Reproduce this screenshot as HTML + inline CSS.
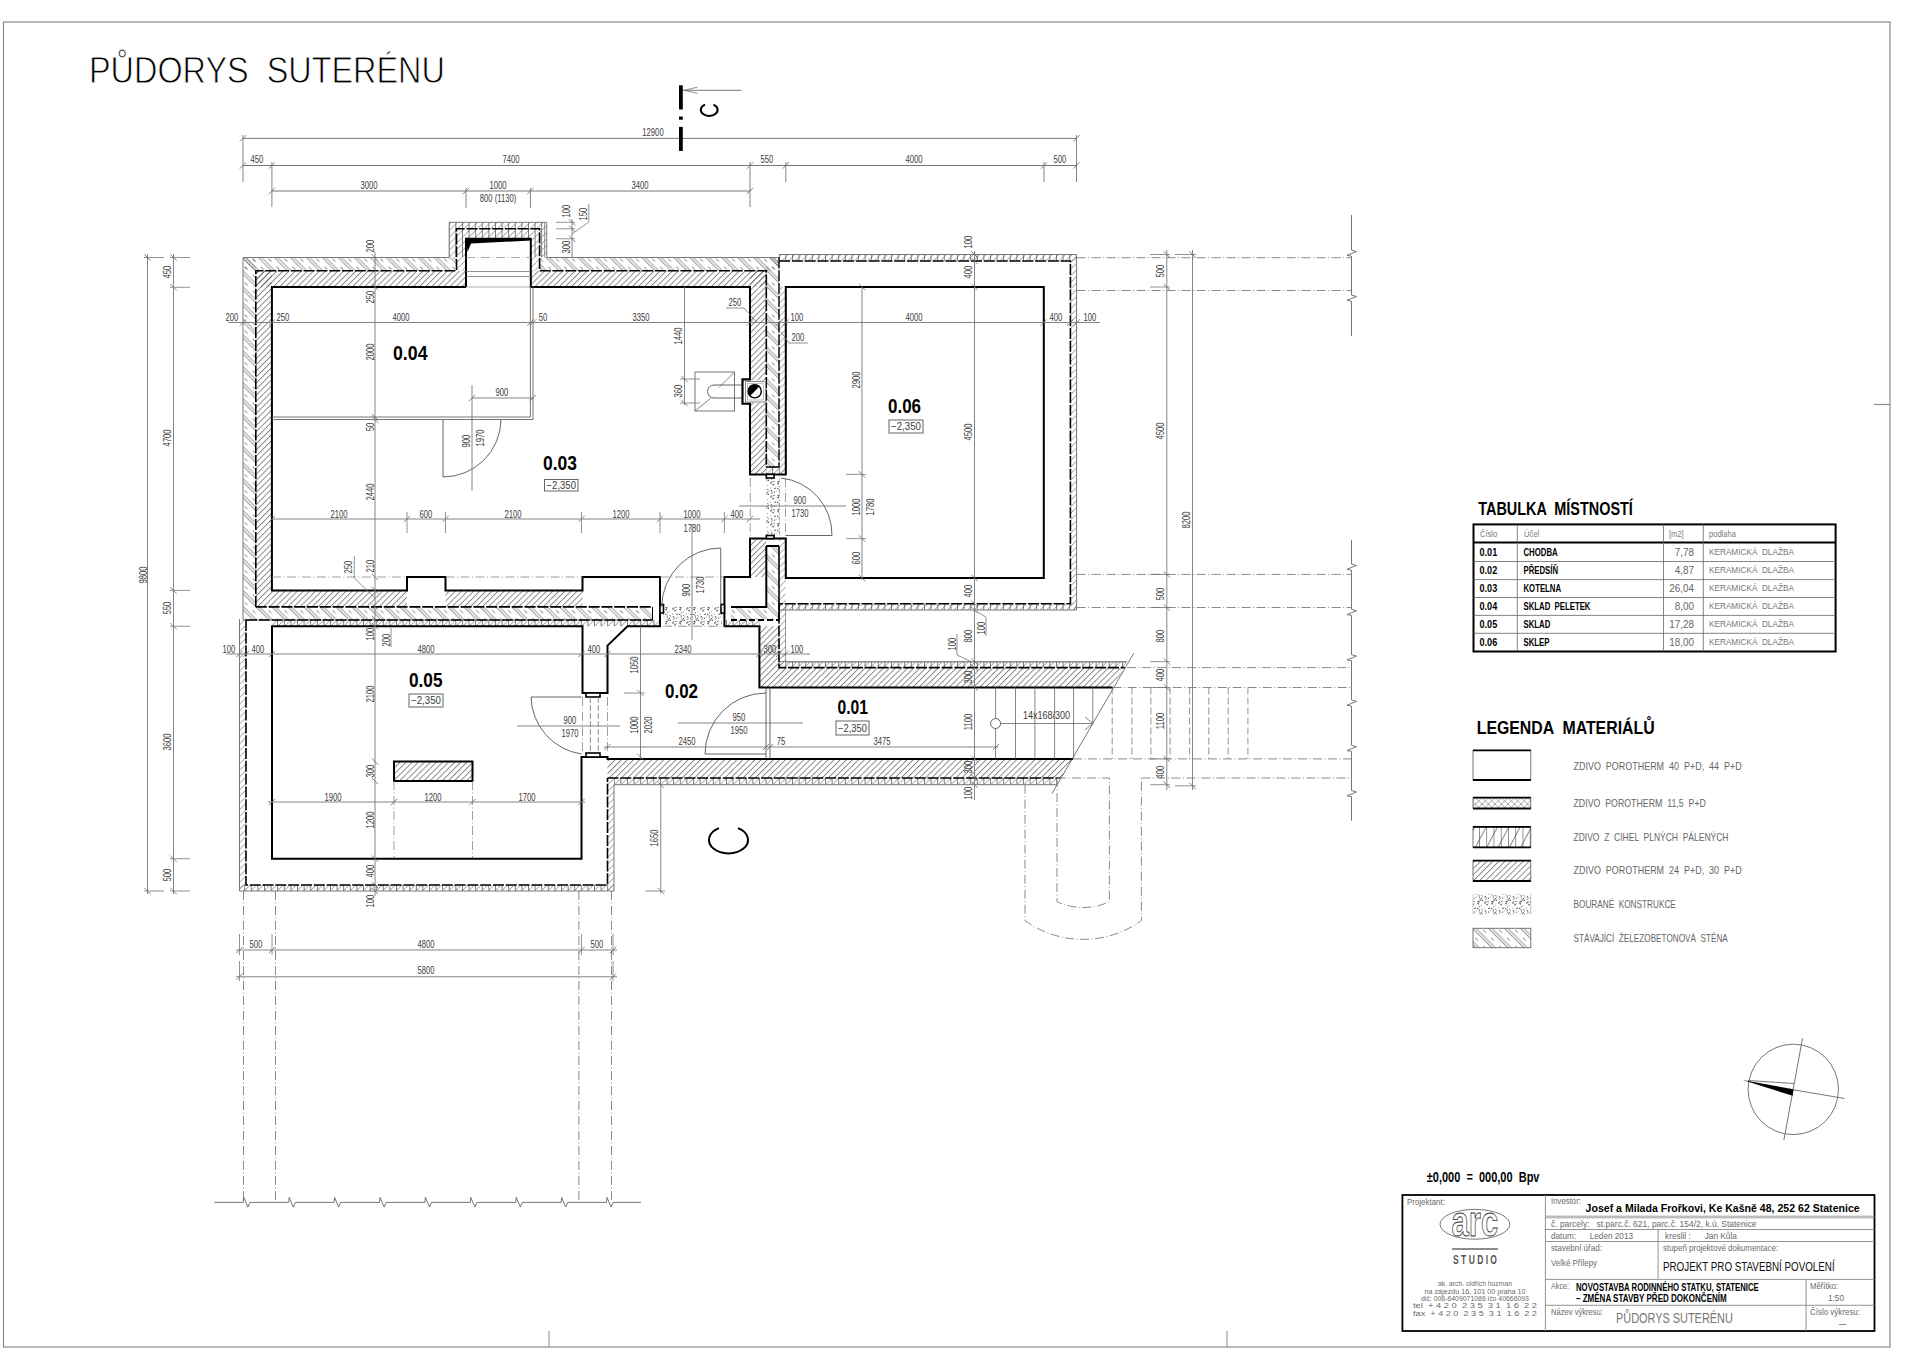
<!DOCTYPE html><html><head><meta charset="utf-8"><style>html,body{margin:0;padding:0;background:#fff;}svg{display:block;} text{font-family:"Liberation Sans",sans-serif;white-space:pre;}</style></head><body>
<svg width="1920" height="1358" viewBox="0 0 1920 1358">
<rect x="0" y="0" width="1920" height="1358" fill="#fff"/>
<defs>
<pattern id="pA" patternUnits="userSpaceOnUse" width="11.3" height="11.3" patternTransform="rotate(-45)"><line x1="0.6" y1="0" x2="0.6" y2="11.3" stroke="#666" stroke-width="0.65"/><line x1="2.9" y1="0" x2="2.9" y2="11.3" stroke="#666" stroke-width="0.65"/><line x1="7" y1="0" x2="7" y2="11.3" stroke="#6a6a6a" stroke-width="0.7" stroke-dasharray="4 7.3"/></pattern>
<pattern id="pB" patternUnits="userSpaceOnUse" width="4.3" height="10" patternTransform="rotate(45)"><line x1="0.5" y1="0" x2="0.5" y2="10" stroke="#5a5a5a" stroke-width="0.75"/></pattern>
<pattern id="pC" patternUnits="userSpaceOnUse" width="6.6" height="6.6"><line x1="0.4" y1="0" x2="0.4" y2="6.6" stroke="#555" stroke-width="0.8"/><line x1="0" y1="6.6" x2="6.6" y2="0" stroke="#666" stroke-width="0.7"/></pattern>
<pattern id="pCv" patternUnits="userSpaceOnUse" width="6.6" height="6.6"><line x1="0" y1="6.6" x2="6.6" y2="0" stroke="#666" stroke-width="0.7"/></pattern>
<pattern id="pX" patternUnits="userSpaceOnUse" width="6.5" height="6.5" y="797.7"><line x1="0" y1="6.5" x2="6.5" y2="0" stroke="#666" stroke-width="0.6"/><line x1="0" y1="0" x2="6.5" y2="6.5" stroke="#666" stroke-width="0.6"/></pattern>
<pattern id="pD" patternUnits="userSpaceOnUse" width="14" height="14"><circle cx="4.5" cy="2.1" r="0.58" fill="#3a3a3a"/><circle cx="1.0" cy="7.5" r="0.48" fill="#3a3a3a"/><circle cx="0.8" cy="7.1" r="0.36" fill="#3a3a3a"/><circle cx="6.1" cy="1.0" r="0.38" fill="#3a3a3a"/><circle cx="5.9" cy="11.6" r="0.39" fill="#3a3a3a"/><circle cx="3.1" cy="8.8" r="0.68" fill="#3a3a3a"/><circle cx="8.1" cy="5.6" r="0.69" fill="#3a3a3a"/><circle cx="0.7" cy="12.0" r="0.45" fill="#3a3a3a"/><circle cx="2.0" cy="1.6" r="0.46" fill="#3a3a3a"/><circle cx="11.4" cy="2.5" r="0.55" fill="#3a3a3a"/><circle cx="8.9" cy="5.2" r="0.54" fill="#3a3a3a"/><circle cx="0.9" cy="0.8" r="0.42" fill="#3a3a3a"/><circle cx="9.5" cy="6.0" r="0.46" fill="#3a3a3a"/><circle cx="8.2" cy="6.3" r="0.45" fill="#3a3a3a"/><circle cx="11.1" cy="9.8" r="0.44" fill="#3a3a3a"/><circle cx="8.0" cy="7.4" r="0.66" fill="#3a3a3a"/><circle cx="10.2" cy="4.0" r="0.69" fill="#3a3a3a"/><circle cx="1.7" cy="5.9" r="0.61" fill="#3a3a3a"/><circle cx="2.1" cy="6.8" r="0.36" fill="#3a3a3a"/><circle cx="9.4" cy="10.7" r="0.55" fill="#3a3a3a"/><circle cx="12.3" cy="4.4" r="0.59" fill="#3a3a3a"/><circle cx="8.3" cy="8.1" r="0.51" fill="#3a3a3a"/><circle cx="11.8" cy="13.2" r="0.52" fill="#3a3a3a"/><circle cx="9.3" cy="0.8" r="0.6" fill="#3a3a3a"/><circle cx="9.1" cy="13.9" r="0.64" fill="#3a3a3a"/><circle cx="4.0" cy="5.4" r="0.58" fill="#3a3a3a"/><circle cx="0.3" cy="6.5" r="0.41" fill="#3a3a3a"/><circle cx="1.6" cy="0.8" r="0.62" fill="#3a3a3a"/><circle cx="1.8" cy="3.5" r="0.49" fill="#3a3a3a"/><circle cx="12.2" cy="1.1" r="0.51" fill="#3a3a3a"/><circle cx="7.7" cy="12.4" r="0.64" fill="#3a3a3a"/><circle cx="12.1" cy="3.9" r="0.5" fill="#3a3a3a"/><circle cx="5.0" cy="12.4" r="0.69" fill="#3a3a3a"/><circle cx="2.1" cy="2.5" r="0.43" fill="#3a3a3a"/><line x1="2" y1="9" x2="5" y2="7.5" stroke="#777" stroke-width="0.5"/><line x1="9" y1="2" x2="11" y2="3.5" stroke="#777" stroke-width="0.5"/></pattern>
<pattern id="pLg3" patternUnits="userSpaceOnUse" width="7.25" height="20"><line x1="0.4" y1="0" x2="0.4" y2="20" stroke="#555" stroke-width="0.7"/></pattern>
<pattern id="pLg3d" patternUnits="userSpaceOnUse" width="10" height="10" patternTransform="rotate(28)"><line x1="0.5" y1="0" x2="0.5" y2="10" stroke="#555" stroke-width="0.7"/></pattern>
</defs>
<rect x="3.5" y="22" width="1886.5" height="1325" fill="none" stroke="#8a8a8a" stroke-width="1.2"/>
<line x1="549" y1="1331" x2="549" y2="1347" stroke="#8a8a8a" stroke-width="1" stroke-linecap="butt"/>
<line x1="1227" y1="1331" x2="1227" y2="1347" stroke="#8a8a8a" stroke-width="1" stroke-linecap="butt"/>
<line x1="1874" y1="404.5" x2="1890" y2="404.5" stroke="#8a8a8a" stroke-width="1.2" stroke-linecap="butt"/>
<text transform="translate(89,70) scale(0.858,1)" x="0" y="13" font-size="37.79" text-anchor="start" fill="#000" stroke="#fff" stroke-width="0.9">PŮDORYS  SUTERÉNU</text>
<line x1="243" y1="138.4" x2="1076.5" y2="138.4" stroke="#777" stroke-width="1" stroke-linecap="butt"/>
<line x1="239.8" y1="141.6" x2="246.2" y2="135.2" stroke="#666" stroke-width="0.8" stroke-linecap="butt"/>
<line x1="1073.3" y1="141.6" x2="1079.7" y2="135.2" stroke="#666" stroke-width="0.8" stroke-linecap="butt"/>
<line x1="243" y1="135" x2="243" y2="182" stroke="#777" stroke-width="0.9" stroke-linecap="butt"/>
<line x1="1076.5" y1="135" x2="1076.5" y2="182" stroke="#777" stroke-width="0.9" stroke-linecap="butt"/>
<text transform="translate(653,132) scale(0.730,1)" x="0" y="3.61" font-size="10.5" text-anchor="middle" fill="#3c3c3c">12900</text>
<line x1="243" y1="165.5" x2="1076.5" y2="165.5" stroke="#777" stroke-width="1" stroke-linecap="butt"/>
<line x1="239.8" y1="168.7" x2="246.2" y2="162.3" stroke="#666" stroke-width="0.8" stroke-linecap="butt"/>
<line x1="268.7" y1="168.7" x2="275.1" y2="162.3" stroke="#666" stroke-width="0.8" stroke-linecap="butt"/>
<line x1="746.8" y1="168.7" x2="753.2" y2="162.3" stroke="#666" stroke-width="0.8" stroke-linecap="butt"/>
<line x1="782.6" y1="168.7" x2="789" y2="162.3" stroke="#666" stroke-width="0.8" stroke-linecap="butt"/>
<line x1="1040.8" y1="168.7" x2="1047.2" y2="162.3" stroke="#666" stroke-width="0.8" stroke-linecap="butt"/>
<line x1="1073.3" y1="168.7" x2="1079.7" y2="162.3" stroke="#666" stroke-width="0.8" stroke-linecap="butt"/>
<line x1="271.9" y1="162" x2="271.9" y2="207" stroke="#777" stroke-width="0.9" stroke-linecap="butt"/>
<line x1="750" y1="162" x2="750" y2="207" stroke="#777" stroke-width="0.9" stroke-linecap="butt"/>
<line x1="785.8" y1="162" x2="785.8" y2="182" stroke="#777" stroke-width="0.9" stroke-linecap="butt"/>
<line x1="1044" y1="162" x2="1044" y2="182" stroke="#777" stroke-width="0.9" stroke-linecap="butt"/>
<text transform="translate(257,159.5) scale(0.730,1)" x="0" y="3.61" font-size="10.5" text-anchor="middle" fill="#3c3c3c">450</text>
<text transform="translate(511,159.5) scale(0.730,1)" x="0" y="3.61" font-size="10.5" text-anchor="middle" fill="#3c3c3c">7400</text>
<text transform="translate(767,159.5) scale(0.730,1)" x="0" y="3.61" font-size="10.5" text-anchor="middle" fill="#3c3c3c">550</text>
<text transform="translate(914,159.5) scale(0.730,1)" x="0" y="3.61" font-size="10.5" text-anchor="middle" fill="#3c3c3c">4000</text>
<text transform="translate(1060,159.5) scale(0.730,1)" x="0" y="3.61" font-size="10.5" text-anchor="middle" fill="#3c3c3c">500</text>
<line x1="271.9" y1="191" x2="750" y2="191" stroke="#777" stroke-width="1" stroke-linecap="butt"/>
<line x1="268.7" y1="194.2" x2="275.1" y2="187.8" stroke="#666" stroke-width="0.8" stroke-linecap="butt"/>
<line x1="462.8" y1="194.2" x2="469.2" y2="187.8" stroke="#666" stroke-width="0.8" stroke-linecap="butt"/>
<line x1="527.2" y1="194.2" x2="533.6" y2="187.8" stroke="#666" stroke-width="0.8" stroke-linecap="butt"/>
<line x1="746.8" y1="194.2" x2="753.2" y2="187.8" stroke="#666" stroke-width="0.8" stroke-linecap="butt"/>
<line x1="466" y1="188" x2="466" y2="208" stroke="#777" stroke-width="0.9" stroke-linecap="butt"/>
<line x1="530.4" y1="188" x2="530.4" y2="208" stroke="#777" stroke-width="0.9" stroke-linecap="butt"/>
<text transform="translate(369,185.5) scale(0.730,1)" x="0" y="3.61" font-size="10.5" text-anchor="middle" fill="#3c3c3c">3000</text>
<text transform="translate(498,185.5) scale(0.730,1)" x="0" y="3.61" font-size="10.5" text-anchor="middle" fill="#3c3c3c">1000</text>
<text transform="translate(498,198.5) scale(0.730,1)" x="0" y="3.61" font-size="10.5" text-anchor="middle" fill="#3c3c3c">800 (1130)</text>
<text transform="translate(640,185.5) scale(0.730,1)" x="0" y="3.61" font-size="10.5" text-anchor="middle" fill="#3c3c3c">3400</text>
<rect x="243" y="257.5" width="536" height="13.2" fill="url(#pA)" stroke="none" stroke-width="1"/>
<rect x="243" y="257.5" width="12.8" height="362.5" fill="url(#pA)" stroke="none" stroke-width="1"/>
<rect x="766.3" y="257.5" width="12.7" height="216.9" fill="url(#pA)" stroke="none" stroke-width="1"/>
<rect x="255.8" y="606.9" width="396.7" height="13.1" fill="url(#pA)" stroke="none" stroke-width="1"/>
<rect x="766.3" y="546" width="12.7" height="74" fill="url(#pA)" stroke="none" stroke-width="1"/>
<rect x="731" y="606.9" width="35.3" height="13.1" fill="url(#pA)" stroke="none" stroke-width="1"/>
<rect x="255.8" y="270.7" width="210.2" height="16.2" fill="url(#pB)" stroke="none" stroke-width="1"/>
<rect x="530.8" y="270.7" width="235.5" height="16.2" fill="url(#pB)" stroke="none" stroke-width="1"/>
<rect x="255.8" y="270.7" width="16.1" height="336.2" fill="url(#pB)" stroke="none" stroke-width="1"/>
<rect x="750" y="270.7" width="16.3" height="203.7" fill="url(#pB)" stroke="none" stroke-width="1"/>
<rect x="271.9" y="590.4" width="135.1" height="16.5" fill="url(#pB)" stroke="none" stroke-width="1"/>
<rect x="445.5" y="590.4" width="137" height="16.5" fill="url(#pB)" stroke="none" stroke-width="1"/>
<rect x="750" y="538.6" width="16.3" height="38.4" fill="url(#pB)" stroke="none" stroke-width="1"/>
<rect x="759.4" y="626.25" width="19.6" height="61.25" fill="url(#pB)" stroke="none" stroke-width="1"/>
<polygon points="779,667.6 1124.8,667.6 1112.7,687.5 779,687.5" fill="url(#pB)"/>
<polygon points="607.5,758.9 1073,758.9 1060.8,778 607.5,778" fill="url(#pB)"/>
<rect x="449.2" y="222.3" width="97.5" height="35.2" fill="#fff" stroke="none" stroke-width="1"/>
<rect x="449.2" y="222.3" width="97.5" height="35.2" fill="url(#pC)" stroke="none" stroke-width="1"/>
<rect x="449.2" y="257.5" width="16.8" height="13.2" fill="#fff" stroke="none" stroke-width="1"/>
<rect x="449.2" y="257.5" width="7.3" height="13.2" fill="url(#pA)" stroke="none" stroke-width="1"/>
<rect x="456.5" y="257.5" width="9.5" height="13.2" fill="url(#pCv)" stroke="none" stroke-width="1"/>
<rect x="530.8" y="257.5" width="15.9" height="13.2" fill="#fff" stroke="none" stroke-width="1"/>
<rect x="539.6" y="257.5" width="7.1" height="13.2" fill="url(#pA)" stroke="none" stroke-width="1"/>
<rect x="530.8" y="257.5" width="8.8" height="13.2" fill="url(#pCv)" stroke="none" stroke-width="1"/>
<rect x="466" y="238.75" width="64.8" height="51.25" fill="#fff" stroke="none" stroke-width="1"/>
<rect x="779" y="254.5" width="297.6" height="6.5" fill="url(#pC)" stroke="none" stroke-width="1"/>
<rect x="1070.4" y="254.5" width="6.2" height="355.5" fill="url(#pCv)" stroke="none" stroke-width="1"/>
<rect x="779" y="603.75" width="297.6" height="6.25" fill="url(#pC)" stroke="none" stroke-width="1"/>
<rect x="779" y="286.9" width="6.8" height="187.5" fill="url(#pCv)" stroke="none" stroke-width="1"/>
<rect x="766.3" y="467" width="12.7" height="7.4" fill="#fff" stroke="none" stroke-width="1"/>
<rect x="766.3" y="467" width="19.5" height="7.4" fill="url(#pC)" stroke="none" stroke-width="1"/>
<rect x="779" y="538.6" width="6.8" height="129" fill="url(#pCv)" stroke="none" stroke-width="1"/>
<polygon points="779,661.6 1127,661.6 1124.8,667.6 779,667.6" fill="url(#pC)"/>
<polygon points="614,778 1060.8,778 1057,784.7 614,784.7" fill="url(#pC)"/>
<rect x="239.5" y="619" width="6.5" height="272" fill="url(#pCv)" stroke="none" stroke-width="1"/>
<rect x="239.5" y="885" width="374.5" height="6" fill="url(#pC)" stroke="none" stroke-width="1"/>
<rect x="607.5" y="778" width="6.5" height="113" fill="url(#pCv)" stroke="none" stroke-width="1"/>
<rect x="272" y="620" width="388" height="6.25" fill="url(#pC)" stroke="none" stroke-width="1"/>
<rect x="724.4" y="620" width="35" height="6.25" fill="url(#pC)" stroke="none" stroke-width="1"/>
<rect x="663" y="606.9" width="59" height="19.35" fill="url(#pD)" stroke="none" stroke-width="1"/>
<rect x="766.3" y="478" width="13.7" height="57.5" fill="url(#pD)" stroke="none" stroke-width="1"/>
<rect x="394" y="761.5" width="78.5" height="19.5" fill="url(#pB)" stroke="none" stroke-width="1"/>
<polyline points="243,620 243,257.5 449.2,257.5 449.2,222.3 546.7,222.3 546.7,257.5 779,257.5" fill="none" stroke="#777" stroke-width="1" stroke-linejoin="miter"/>
<line x1="544.6" y1="222.3" x2="544.6" y2="257.5" stroke="#777" stroke-width="0.8" stroke-linecap="butt"/>
<polyline points="779,254.5 1076.6,254.5 1076.6,610 779,610" fill="none" stroke="#777" stroke-width="1" stroke-linejoin="miter"/>
<polyline points="239.5,619 239.5,891 614,891 614,784.7 1057,784.7" fill="none" stroke="#777" stroke-width="1" stroke-linejoin="miter"/>
<line x1="243" y1="620" x2="652.5" y2="620" stroke="#777" stroke-width="0.9" stroke-linecap="butt"/>
<polyline points="785.6,610 785.6,662 1127,662" fill="none" stroke="#777" stroke-width="0.8" stroke-linejoin="miter"/>
<line x1="779" y1="661.6" x2="1127" y2="661.6" stroke="#777" stroke-width="0.8" stroke-linecap="butt"/>
<polyline points="255.8,606.9 255.8,270.7 456.5,270.7 456.5,228.75 539.6,228.75 539.6,270.7 766.3,270.7 766.3,467" fill="none" stroke="#000" stroke-width="1.6" stroke-dasharray="11 1.8" stroke-linejoin="miter"/>
<line x1="255.8" y1="606.9" x2="652.5" y2="606.9" stroke="#000" stroke-width="1.6" stroke-dasharray="11 1.8" stroke-linecap="butt"/>
<line x1="246" y1="620" x2="652.5" y2="620" stroke="#000" stroke-width="1.6" stroke-dasharray="11 1.8" stroke-linecap="butt"/>
<line x1="652.5" y1="606.9" x2="652.5" y2="620" stroke="#000" stroke-width="1" stroke-linecap="butt"/>
<line x1="779" y1="257.5" x2="779" y2="467" stroke="#000" stroke-width="1.4" stroke-dasharray="11 1.8" stroke-linecap="butt"/>
<line x1="766.3" y1="467" x2="779" y2="467" stroke="#000" stroke-width="1.6" stroke-linecap="butt"/>
<polyline points="779,261 1070.4,261 1070.4,603.75 779,603.75 779,667.6 1124.8,667.6" fill="none" stroke="#000" stroke-width="1.6" stroke-dasharray="11 1.8" stroke-linejoin="miter"/>
<line x1="607.5" y1="778" x2="1060.8" y2="778" stroke="#000" stroke-width="1.6" stroke-dasharray="11 1.8" stroke-linecap="butt"/>
<polyline points="246,620 246,885 607.5,885 607.5,778" fill="none" stroke="#000" stroke-width="1.6" stroke-dasharray="11 1.8" stroke-linejoin="miter"/>
<line x1="731" y1="620" x2="779" y2="620" stroke="#000" stroke-width="2" stroke-dasharray="6 3" stroke-linecap="butt"/>
<polyline points="731,606.9 766.3,606.9 766.3,546" fill="none" stroke="#000" stroke-width="2" stroke-linejoin="miter"/>
<line x1="779" y1="546" x2="779" y2="620" stroke="#000" stroke-width="1.6" stroke-linecap="butt"/>
<line x1="766.3" y1="546" x2="779" y2="546" stroke="#000" stroke-width="2" stroke-linecap="butt"/>
<polyline points="466,286.9 271.9,286.9 271.9,590.4 407,590.4 407,577 445.5,577 445.5,590.4 582.5,590.4 582.5,577 660,577 660,626.25 627.5,626.25 607.5,645.6 607.5,693 582.5,693 582.5,626.25 272,626.25 272,858.75 581.5,858.75 581.5,757 607.5,757 607.5,758.9 1073,758.9" fill="none" stroke="#000" stroke-width="2" stroke-linejoin="miter"/>
<polyline points="466,286.9 466,238.75 530.8,238.75 530.8,286.9 750,286.9 750,474.4 785.8,474.4 785.8,286.9 1043.8,286.9 1043.8,578 785.8,578 785.8,538.6 750,538.6 750,577 724.4,577 724.4,626.25 759.4,626.25 759.4,687.5 1112.7,687.5" fill="none" stroke="#000" stroke-width="2" stroke-linejoin="miter"/>
<polygon points="466,238 531,238 531,240.5 471,243.5 467.5,252" fill="#000"/>
<rect x="766.3" y="474.4" width="7.7" height="3.6" fill="#fff" stroke="#000" stroke-width="1.6"/>
<rect x="766.3" y="535.5" width="7.7" height="3.1" fill="#fff" stroke="#000" stroke-width="1.6"/>
<rect x="586" y="693" width="14" height="4" fill="#fff" stroke="#000" stroke-width="1.6"/>
<rect x="586" y="753" width="14" height="4" fill="#fff" stroke="#000" stroke-width="1.6"/>
<rect x="660" y="604.5" width="3.5" height="8.5" fill="#fff" stroke="#000" stroke-width="1.6"/>
<rect x="721" y="604.5" width="3.4" height="8.5" fill="#fff" stroke="#000" stroke-width="1.6"/>
<rect x="394" y="761.5" width="78.5" height="19.5" fill="none" stroke="#000" stroke-width="2"/>
<line x1="750.3" y1="478" x2="750.3" y2="535.5" stroke="#888" stroke-width="0.8" stroke-dasharray="9 2.5 1 2.5" stroke-linecap="butt"/>
<line x1="785.5" y1="478" x2="785.5" y2="535.5" stroke="#888" stroke-width="0.8" stroke-dasharray="9 2.5 1 2.5" stroke-linecap="butt"/>
<line x1="582.5" y1="697" x2="582.5" y2="753" stroke="#888" stroke-width="0.8" stroke-dasharray="9 2.5 1 2.5" stroke-linecap="butt"/>
<line x1="607.5" y1="697" x2="607.5" y2="753" stroke="#888" stroke-width="0.8" stroke-dasharray="9 2.5 1 2.5" stroke-linecap="butt"/>
<line x1="590.4" y1="697" x2="590.4" y2="753" stroke="#777" stroke-width="0.8" stroke-dasharray="6 2" stroke-linecap="butt"/>
<line x1="598.3" y1="697" x2="598.3" y2="753" stroke="#777" stroke-width="0.8" stroke-dasharray="6 2" stroke-linecap="butt"/>
<line x1="660" y1="577" x2="724.4" y2="577" stroke="#888" stroke-width="0.8" stroke-dasharray="9 2.5 1 2.5" stroke-linecap="butt"/>
<line x1="663" y1="626.25" x2="724.4" y2="626.25" stroke="#888" stroke-width="0.8" stroke-dasharray="9 2.5 1 2.5" stroke-linecap="butt"/>
<line x1="271.9" y1="577" x2="407" y2="577" stroke="#888" stroke-width="0.8" stroke-dasharray="9 2.5 1 2.5" stroke-linecap="butt"/>
<line x1="445.5" y1="577" x2="582.5" y2="577" stroke="#888" stroke-width="0.8" stroke-dasharray="9 2.5 1 2.5" stroke-linecap="butt"/>
<line x1="466" y1="257.5" x2="530.8" y2="257.5" stroke="#999" stroke-width="0.8" stroke-dasharray="9 2.5 1 2.5" stroke-linecap="butt"/>
<line x1="466" y1="271.5" x2="530.8" y2="271.5" stroke="#777" stroke-width="0.8" stroke-linecap="butt"/>
<line x1="466" y1="276.5" x2="530.8" y2="276.5" stroke="#777" stroke-width="0.8" stroke-linecap="butt"/>
<line x1="466" y1="287" x2="530.8" y2="287" stroke="#999" stroke-width="0.8" stroke-linecap="butt"/>
<polyline points="271.9,417 530.4,417 530.4,286.9" fill="none" stroke="#666" stroke-width="0.9" stroke-linejoin="miter"/>
<polyline points="271.9,419.5 533,419.5 533,286.9" fill="none" stroke="#666" stroke-width="0.9" stroke-linejoin="miter"/>
<line x1="394" y1="781" x2="394" y2="858" stroke="#888" stroke-width="0.8" stroke-dasharray="9 2.5 1 2.5" stroke-linecap="butt"/>
<line x1="472.5" y1="781" x2="472.5" y2="858" stroke="#888" stroke-width="0.8" stroke-dasharray="9 2.5 1 2.5" stroke-linecap="butt"/>
<line x1="443" y1="419.5" x2="443" y2="477" stroke="#555" stroke-width="0.9" stroke-linecap="butt"/>
<path d="M443,477 A58,58 0 0 0 501,419.5" fill="none" stroke="#555" stroke-width="0.9"/>
<line x1="785.8" y1="535.5" x2="832" y2="535.5" stroke="#555" stroke-width="0.9" stroke-linecap="butt"/>
<path d="M781,478 A57,57 0 0 1 832,535.5" fill="none" stroke="#555" stroke-width="0.9"/>
<line x1="720.75" y1="548" x2="720.75" y2="606.9" stroke="#555" stroke-width="0.9" stroke-linecap="butt"/>
<path d="M720.75,548 A59,59 0 0 0 661.75,606.9" fill="none" stroke="#555" stroke-width="0.9"/>
<line x1="531" y1="697" x2="581.5" y2="697" stroke="#555" stroke-width="0.9" stroke-linecap="butt"/>
<path d="M531,697 A59,59 0 0 0 581.5,754" fill="none" stroke="#555" stroke-width="0.9"/>
<line x1="705" y1="754" x2="766" y2="754" stroke="#555" stroke-width="0.9" stroke-linecap="butt"/>
<path d="M705,754 A61,61 0 0 1 766,693" fill="none" stroke="#555" stroke-width="0.9"/>
<line x1="766" y1="687.5" x2="766" y2="758.9" stroke="#555" stroke-width="0.9" stroke-linecap="butt"/>
<line x1="770" y1="687.5" x2="770" y2="758.9" stroke="#555" stroke-width="0.9" stroke-linecap="butt"/>
<rect x="695" y="372" width="39.5" height="39" fill="none" stroke="#666" stroke-width="0.9"/>
<line x1="734.5" y1="372" x2="719" y2="387.5" stroke="#666" stroke-width="0.8" stroke-linecap="butt"/>
<line x1="711" y1="398" x2="695" y2="411" stroke="#666" stroke-width="0.8" stroke-linecap="butt"/>
<path d="M742.5,385 H714 A6.5,6.5 0 0 0 714,398 H742.5" fill="none" stroke="#555" stroke-width="0.9"/>
<rect x="743.5" y="380.4" width="22.5" height="22.4" fill="#fff" stroke="none" stroke-width="1"/>
<polyline points="750,379.4 742.5,379.4 742.5,403.75 750,403.75" fill="none" stroke="#000" stroke-width="2.2" stroke-linejoin="miter"/>
<rect x="745.6" y="381.6" width="20" height="20.4" fill="none" stroke="#666" stroke-width="0.8"/>
<rect x="747.5" y="383.5" width="16" height="16.5" fill="none" stroke="#999" stroke-width="0.6"/>
<circle cx="754.7" cy="391.25" r="6.6" fill="#fff" stroke="#000" stroke-width="1.4"/>
<path d="M750.03,395.92 A6.6,6.6 0 0 1 759.37,386.58 Z" fill="#000" stroke="none" stroke-width="0"/>
<line x1="1015.5" y1="687.5" x2="1015.5" y2="758.9" stroke="#666" stroke-width="0.8" stroke-linecap="butt"/>
<line x1="1034.9" y1="687.5" x2="1034.9" y2="758.9" stroke="#666" stroke-width="0.8" stroke-linecap="butt"/>
<line x1="1054.6" y1="687.5" x2="1054.6" y2="758.9" stroke="#666" stroke-width="0.8" stroke-linecap="butt"/>
<line x1="1073.6" y1="687.5" x2="1073.6" y2="758.9" stroke="#666" stroke-width="0.8" stroke-linecap="butt"/>
<line x1="1092.8" y1="687.5" x2="1092.8" y2="723.3" stroke="#666" stroke-width="0.8" stroke-linecap="butt"/>
<line x1="995.6" y1="687.5" x2="995.6" y2="718.5" stroke="#666" stroke-width="0.8" stroke-linecap="butt"/>
<line x1="995.6" y1="728.5" x2="995.6" y2="758.9" stroke="#666" stroke-width="0.8" stroke-linecap="butt"/>
<line x1="1133.7" y1="653.3" x2="1052" y2="793.6" stroke="#555" stroke-width="0.8" stroke-linecap="butt"/>
<line x1="1112.2" y1="687.5" x2="1112.2" y2="758.9" stroke="#888" stroke-width="0.9" stroke-dasharray="7 3" stroke-linecap="butt"/>
<line x1="1131.9" y1="687.5" x2="1131.9" y2="758.9" stroke="#888" stroke-width="0.9" stroke-dasharray="7 3" stroke-linecap="butt"/>
<line x1="1150.9" y1="687.5" x2="1150.9" y2="758.9" stroke="#888" stroke-width="0.9" stroke-dasharray="7 3" stroke-linecap="butt"/>
<line x1="1170.1" y1="687.5" x2="1170.1" y2="758.9" stroke="#888" stroke-width="0.9" stroke-dasharray="7 3" stroke-linecap="butt"/>
<line x1="1189.6" y1="687.5" x2="1189.6" y2="758.9" stroke="#888" stroke-width="0.9" stroke-dasharray="7 3" stroke-linecap="butt"/>
<line x1="1208.8" y1="687.5" x2="1208.8" y2="758.9" stroke="#888" stroke-width="0.9" stroke-dasharray="7 3" stroke-linecap="butt"/>
<line x1="1228.2" y1="687.5" x2="1228.2" y2="758.9" stroke="#888" stroke-width="0.9" stroke-dasharray="7 3" stroke-linecap="butt"/>
<line x1="1247.9" y1="687.5" x2="1247.9" y2="758.9" stroke="#888" stroke-width="0.9" stroke-dasharray="7 3" stroke-linecap="butt"/>
<circle cx="995.6" cy="723.5" r="5" fill="#fff" stroke="#555" stroke-width="0.9"/>
<line x1="1000.6" y1="723.5" x2="1092.8" y2="723.5" stroke="#666" stroke-width="0.8" stroke-linecap="butt"/>
<line x1="1092.8" y1="723.5" x2="1085" y2="717" stroke="#666" stroke-width="0.8" stroke-linecap="butt"/>
<line x1="1092.8" y1="723.5" x2="1085" y2="730" stroke="#666" stroke-width="0.8" stroke-linecap="butt"/>
<line x1="1076.6" y1="257.7" x2="1351.5" y2="257.7" stroke="#8a8a8a" stroke-width="1" stroke-dasharray="9 2.5 1 2.5" stroke-linecap="butt"/>
<line x1="1076.6" y1="290.5" x2="1351.5" y2="290.5" stroke="#8a8a8a" stroke-width="1" stroke-dasharray="9 2.5 1 2.5" stroke-linecap="butt"/>
<line x1="1076.6" y1="574.4" x2="1351.5" y2="574.4" stroke="#8a8a8a" stroke-width="1" stroke-dasharray="9 2.5 1 2.5" stroke-linecap="butt"/>
<line x1="1076.6" y1="607.5" x2="1351.5" y2="607.5" stroke="#8a8a8a" stroke-width="1" stroke-dasharray="9 2.5 1 2.5" stroke-linecap="butt"/>
<line x1="1127" y1="667.6" x2="1351.5" y2="667.6" stroke="#8a8a8a" stroke-width="1" stroke-dasharray="9 2.5 1 2.5" stroke-linecap="butt"/>
<line x1="1112.7" y1="687.5" x2="1351.5" y2="687.5" stroke="#8a8a8a" stroke-width="1" stroke-dasharray="9 2.5 1 2.5" stroke-linecap="butt"/>
<line x1="1073" y1="758.9" x2="1351.5" y2="758.9" stroke="#8a8a8a" stroke-width="1" stroke-dasharray="9 2.5 1 2.5" stroke-linecap="butt"/>
<line x1="1141.4" y1="778" x2="1351.5" y2="778" stroke="#8a8a8a" stroke-width="1" stroke-dasharray="9 2.5 1 2.5" stroke-linecap="butt"/>
<path d="M1025,784.7 V920.6 A99.5,99.5 0 0 0 1141.4,920.6 V778" fill="none" stroke="#8a8a8a" stroke-width="1" stroke-dasharray="9 2.5 1 2.5"/>
<path d="M1057,778 V901.8 A63,63 0 0 0 1109.4,901.8 V778 H1057" fill="none" stroke="#8a8a8a" stroke-width="1" stroke-dasharray="9 2.5 1 2.5"/>
<line x1="243.5" y1="891" x2="243.5" y2="1202.3" stroke="#8a8a8a" stroke-width="1" stroke-dasharray="9 2.5 1 2.5" stroke-linecap="butt"/>
<line x1="275.5" y1="891" x2="275.5" y2="1202.3" stroke="#8a8a8a" stroke-width="1" stroke-dasharray="9 2.5 1 2.5" stroke-linecap="butt"/>
<line x1="578.9" y1="891" x2="578.9" y2="1202.3" stroke="#8a8a8a" stroke-width="1" stroke-dasharray="9 2.5 1 2.5" stroke-linecap="butt"/>
<line x1="611.5" y1="891" x2="611.5" y2="1202.3" stroke="#8a8a8a" stroke-width="1" stroke-dasharray="9 2.5 1 2.5" stroke-linecap="butt"/>
<path d="M1351.5,215 L1351.5,250 L1356.5,251.5 L1347,255.3 L1351.5,256.2 L1351.5,295 L1356.5,296.5 L1347,300.3 L1351.5,301.2 L1351.5,336" fill="none" stroke="#666" stroke-width="0.9"/>
<path d="M1351.5,540 L1351.5,564 L1356.5,565.5 L1347,569.3 L1351.5,570.2 L1351.5,609.3 L1356.5,610.8 L1347,614.6 L1351.5,615.5 L1351.5,654.6 L1356.5,656.1 L1347,659.9 L1351.5,660.8 L1351.5,699.9 L1356.5,701.4 L1347,705.2 L1351.5,706.1 L1351.5,745.2 L1356.5,746.7 L1347,750.5 L1351.5,751.4 L1351.5,790.5 L1356.5,792 L1347,795.8 L1351.5,796.7 L1351.5,820.7" fill="none" stroke="#666" stroke-width="0.9"/>
<path d="M214.3,1202.4 L243.3,1202.4 L243.8,1197.4 L247.9,1207.1 L249.9,1202.4 L288.7,1202.4 L289.2,1197.4 L293.3,1207.1 L295.3,1202.4 L334.1,1202.4 L334.6,1197.4 L338.7,1207.1 L340.7,1202.4 L379.5,1202.4 L380,1197.4 L384.1,1207.1 L386.1,1202.4 L424.9,1202.4 L425.4,1197.4 L429.5,1207.1 L431.5,1202.4 L470.3,1202.4 L470.8,1197.4 L474.9,1207.1 L476.9,1202.4 L515.7,1202.4 L516.2,1197.4 L520.3,1207.1 L522.3,1202.4 L561.1,1202.4 L561.6,1197.4 L565.7,1207.1 L567.7,1202.4 L606.5,1202.4 L607,1197.4 L611.1,1207.1 L613.1,1202.4 L640.9,1202.4" fill="none" stroke="#666" stroke-width="0.9"/>
<rect x="679" y="85.3" width="3.8" height="24.2" fill="#000" stroke="none" stroke-width="1"/>
<rect x="679" y="116.6" width="3.8" height="3.1" fill="#000" stroke="none" stroke-width="1"/>
<rect x="679" y="126.9" width="3.8" height="24" fill="#000" stroke="none" stroke-width="1"/>
<line x1="683" y1="90.3" x2="741.6" y2="90.3" stroke="#777" stroke-width="1" stroke-linecap="butt"/>
<line x1="684" y1="90.3" x2="697.5" y2="87.2" stroke="#777" stroke-width="0.8" stroke-linecap="butt"/>
<line x1="684" y1="90.3" x2="697.5" y2="93.4" stroke="#777" stroke-width="0.8" stroke-linecap="butt"/>
<path d="M705,104.6 A8.4,6.1 0 1 0 713.4,104.6" fill="none" stroke="#000" stroke-width="2"/>
<path d="M719,828.1 A19.5,13.5 0 1 0 738,828.1" fill="none" stroke="#000" stroke-width="2"/>
<line x1="228" y1="322.5" x2="1100" y2="322.5" stroke="#777" stroke-width="0.9" stroke-linecap="butt"/>
<line x1="239.8" y1="325.7" x2="246.2" y2="319.3" stroke="#666" stroke-width="0.8" stroke-linecap="butt"/>
<line x1="268.7" y1="325.7" x2="275.1" y2="319.3" stroke="#666" stroke-width="0.8" stroke-linecap="butt"/>
<line x1="527.2" y1="325.7" x2="533.6" y2="319.3" stroke="#666" stroke-width="0.8" stroke-linecap="butt"/>
<line x1="529.8" y1="325.7" x2="536.2" y2="319.3" stroke="#666" stroke-width="0.8" stroke-linecap="butt"/>
<line x1="746.8" y1="325.7" x2="753.2" y2="319.3" stroke="#666" stroke-width="0.8" stroke-linecap="butt"/>
<line x1="775.8" y1="325.7" x2="782.2" y2="319.3" stroke="#666" stroke-width="0.8" stroke-linecap="butt"/>
<line x1="782.6" y1="325.7" x2="789" y2="319.3" stroke="#666" stroke-width="0.8" stroke-linecap="butt"/>
<line x1="1040.6" y1="325.7" x2="1047" y2="319.3" stroke="#666" stroke-width="0.8" stroke-linecap="butt"/>
<line x1="1067.2" y1="325.7" x2="1073.6" y2="319.3" stroke="#666" stroke-width="0.8" stroke-linecap="butt"/>
<line x1="1073.4" y1="325.7" x2="1079.8" y2="319.3" stroke="#666" stroke-width="0.8" stroke-linecap="butt"/>
<text transform="translate(232,317) scale(0.730,1)" x="0" y="3.61" font-size="10.5" text-anchor="middle" fill="#3c3c3c">200</text>
<text transform="translate(283,317) scale(0.730,1)" x="0" y="3.61" font-size="10.5" text-anchor="middle" fill="#3c3c3c">250</text>
<text transform="translate(401,317) scale(0.730,1)" x="0" y="3.61" font-size="10.5" text-anchor="middle" fill="#3c3c3c">4000</text>
<text transform="translate(543,317) scale(0.730,1)" x="0" y="3.61" font-size="10.5" text-anchor="middle" fill="#3c3c3c">50</text>
<text transform="translate(641,317) scale(0.730,1)" x="0" y="3.61" font-size="10.5" text-anchor="middle" fill="#3c3c3c">3350</text>
<text transform="translate(797,317) scale(0.730,1)" x="0" y="3.61" font-size="10.5" text-anchor="middle" fill="#3c3c3c">100</text>
<text transform="translate(914,317) scale(0.730,1)" x="0" y="3.61" font-size="10.5" text-anchor="middle" fill="#3c3c3c">4000</text>
<text transform="translate(1056,317) scale(0.730,1)" x="0" y="3.61" font-size="10.5" text-anchor="middle" fill="#3c3c3c">400</text>
<text transform="translate(1090,317) scale(0.730,1)" x="0" y="3.61" font-size="10.5" text-anchor="middle" fill="#3c3c3c">100</text>
<text transform="translate(735,302.5) scale(0.730,1)" x="0" y="3.61" font-size="10.5" text-anchor="middle" fill="#3c3c3c">250</text>
<polyline points="726,308 744,308 757,322.5" fill="none" stroke="#777" stroke-width="0.8" stroke-linejoin="miter"/>
<text transform="translate(798,337.5) scale(0.730,1)" x="0" y="3.61" font-size="10.5" text-anchor="middle" fill="#3c3c3c">200</text>
<polyline points="808,343 789,343 781,332" fill="none" stroke="#777" stroke-width="0.8" stroke-linejoin="miter"/>
<line x1="375" y1="252" x2="375" y2="896" stroke="#777" stroke-width="0.9" stroke-linecap="butt"/>
<line x1="371.8" y1="254.3" x2="378.2" y2="260.7" stroke="#666" stroke-width="0.8" stroke-linecap="butt"/>
<line x1="371.8" y1="283.7" x2="378.2" y2="290.1" stroke="#666" stroke-width="0.8" stroke-linecap="butt"/>
<line x1="371.8" y1="413.8" x2="378.2" y2="420.2" stroke="#666" stroke-width="0.8" stroke-linecap="butt"/>
<line x1="371.8" y1="416.3" x2="378.2" y2="422.7" stroke="#666" stroke-width="0.8" stroke-linecap="butt"/>
<line x1="371.8" y1="573.8" x2="378.2" y2="580.2" stroke="#666" stroke-width="0.8" stroke-linecap="butt"/>
<line x1="371.8" y1="587.2" x2="378.2" y2="593.6" stroke="#666" stroke-width="0.8" stroke-linecap="butt"/>
<line x1="371.8" y1="603.7" x2="378.2" y2="610.1" stroke="#666" stroke-width="0.8" stroke-linecap="butt"/>
<line x1="371.8" y1="615.8" x2="378.2" y2="622.2" stroke="#666" stroke-width="0.8" stroke-linecap="butt"/>
<line x1="371.8" y1="623.05" x2="378.2" y2="629.45" stroke="#666" stroke-width="0.8" stroke-linecap="butt"/>
<line x1="371.8" y1="758.3" x2="378.2" y2="764.7" stroke="#666" stroke-width="0.8" stroke-linecap="butt"/>
<line x1="371.8" y1="777.8" x2="378.2" y2="784.2" stroke="#666" stroke-width="0.8" stroke-linecap="butt"/>
<line x1="371.8" y1="855.55" x2="378.2" y2="861.95" stroke="#666" stroke-width="0.8" stroke-linecap="butt"/>
<line x1="371.8" y1="881.8" x2="378.2" y2="888.2" stroke="#666" stroke-width="0.8" stroke-linecap="butt"/>
<line x1="371.8" y1="887.8" x2="378.2" y2="894.2" stroke="#666" stroke-width="0.8" stroke-linecap="butt"/>
<text transform="translate(370,246) rotate(-90) scale(0.730,1)" x="0" y="3.61" font-size="10.5" text-anchor="middle" fill="#3c3c3c">200</text>
<text transform="translate(370,297) rotate(-90) scale(0.730,1)" x="0" y="3.61" font-size="10.5" text-anchor="middle" fill="#3c3c3c">250</text>
<text transform="translate(370,352) rotate(-90) scale(0.730,1)" x="0" y="3.61" font-size="10.5" text-anchor="middle" fill="#3c3c3c">2000</text>
<text transform="translate(370,427) rotate(-90) scale(0.730,1)" x="0" y="3.61" font-size="10.5" text-anchor="middle" fill="#3c3c3c">50</text>
<text transform="translate(370,492) rotate(-90) scale(0.730,1)" x="0" y="3.61" font-size="10.5" text-anchor="middle" fill="#3c3c3c">2440</text>
<text transform="translate(370,566) rotate(-90) scale(0.730,1)" x="0" y="3.61" font-size="10.5" text-anchor="middle" fill="#3c3c3c">210</text>
<text transform="translate(370,634) rotate(-90) scale(0.730,1)" x="0" y="3.61" font-size="10.5" text-anchor="middle" fill="#3c3c3c">100</text>
<text transform="translate(370,694) rotate(-90) scale(0.730,1)" x="0" y="3.61" font-size="10.5" text-anchor="middle" fill="#3c3c3c">2100</text>
<text transform="translate(370,771) rotate(-90) scale(0.730,1)" x="0" y="3.61" font-size="10.5" text-anchor="middle" fill="#3c3c3c">300</text>
<text transform="translate(370,820) rotate(-90) scale(0.730,1)" x="0" y="3.61" font-size="10.5" text-anchor="middle" fill="#3c3c3c">1200</text>
<text transform="translate(370,871) rotate(-90) scale(0.730,1)" x="0" y="3.61" font-size="10.5" text-anchor="middle" fill="#3c3c3c">400</text>
<text transform="translate(370,901) rotate(-90) scale(0.730,1)" x="0" y="3.61" font-size="10.5" text-anchor="middle" fill="#3c3c3c">100</text>
<text transform="translate(348.5,567) rotate(-90) scale(0.730,1)" x="0" y="3.61" font-size="10.5" text-anchor="middle" fill="#3c3c3c">250</text>
<polyline points="354.3,556 354.3,578 375,598" fill="none" stroke="#777" stroke-width="0.8" stroke-linejoin="miter"/>
<text transform="translate(386,640) rotate(-90) scale(0.730,1)" x="0" y="3.61" font-size="10.5" text-anchor="middle" fill="#3c3c3c">200</text>
<polyline points="391,628 391,647" fill="none" stroke="#777" stroke-width="0.8" stroke-linejoin="miter"/>
<line x1="271.9" y1="519" x2="760" y2="519" stroke="#777" stroke-width="0.9" stroke-linecap="butt"/>
<line x1="268.7" y1="522.2" x2="275.1" y2="515.8" stroke="#666" stroke-width="0.8" stroke-linecap="butt"/>
<line x1="403.8" y1="522.2" x2="410.2" y2="515.8" stroke="#666" stroke-width="0.8" stroke-linecap="butt"/>
<line x1="442.3" y1="522.2" x2="448.7" y2="515.8" stroke="#666" stroke-width="0.8" stroke-linecap="butt"/>
<line x1="578.3" y1="522.2" x2="584.7" y2="515.8" stroke="#666" stroke-width="0.8" stroke-linecap="butt"/>
<line x1="656.8" y1="522.2" x2="663.2" y2="515.8" stroke="#666" stroke-width="0.8" stroke-linecap="butt"/>
<line x1="721.2" y1="522.2" x2="727.6" y2="515.8" stroke="#666" stroke-width="0.8" stroke-linecap="butt"/>
<line x1="746.8" y1="522.2" x2="753.2" y2="515.8" stroke="#666" stroke-width="0.8" stroke-linecap="butt"/>
<line x1="407" y1="512" x2="407" y2="533" stroke="#777" stroke-width="0.8" stroke-linecap="butt"/>
<line x1="445.5" y1="512" x2="445.5" y2="533" stroke="#777" stroke-width="0.8" stroke-linecap="butt"/>
<line x1="581.5" y1="512" x2="581.5" y2="533" stroke="#777" stroke-width="0.8" stroke-linecap="butt"/>
<line x1="660" y1="512" x2="660" y2="533" stroke="#777" stroke-width="0.8" stroke-linecap="butt"/>
<line x1="724.4" y1="512" x2="724.4" y2="533" stroke="#777" stroke-width="0.8" stroke-linecap="butt"/>
<text transform="translate(339,514) scale(0.730,1)" x="0" y="3.61" font-size="10.5" text-anchor="middle" fill="#3c3c3c">2100</text>
<text transform="translate(426,514) scale(0.730,1)" x="0" y="3.61" font-size="10.5" text-anchor="middle" fill="#3c3c3c">600</text>
<text transform="translate(513,514) scale(0.730,1)" x="0" y="3.61" font-size="10.5" text-anchor="middle" fill="#3c3c3c">2100</text>
<text transform="translate(621,514) scale(0.730,1)" x="0" y="3.61" font-size="10.5" text-anchor="middle" fill="#3c3c3c">1200</text>
<text transform="translate(692,514) scale(0.730,1)" x="0" y="3.61" font-size="10.5" text-anchor="middle" fill="#3c3c3c">1000</text>
<text transform="translate(737,514) scale(0.730,1)" x="0" y="3.61" font-size="10.5" text-anchor="middle" fill="#3c3c3c">400</text>
<text transform="translate(692,528) scale(0.730,1)" x="0" y="3.61" font-size="10.5" text-anchor="middle" fill="#3c3c3c">1780</text>
<line x1="684.5" y1="286.9" x2="684.5" y2="405" stroke="#777" stroke-width="0.9" stroke-linecap="butt"/>
<line x1="681.3" y1="375.8" x2="687.7" y2="382.2" stroke="#666" stroke-width="0.8" stroke-linecap="butt"/>
<line x1="680" y1="379" x2="700" y2="379" stroke="#777" stroke-width="0.8" stroke-linecap="butt"/>
<line x1="681.3" y1="399.8" x2="687.7" y2="406.2" stroke="#666" stroke-width="0.8" stroke-linecap="butt"/>
<line x1="680" y1="403" x2="700" y2="403" stroke="#777" stroke-width="0.8" stroke-linecap="butt"/>
<text transform="translate(678.5,336) rotate(-90) scale(0.730,1)" x="0" y="3.61" font-size="10.5" text-anchor="middle" fill="#3c3c3c">1440</text>
<text transform="translate(678.5,391) rotate(-90) scale(0.730,1)" x="0" y="3.61" font-size="10.5" text-anchor="middle" fill="#3c3c3c">360</text>
<line x1="472" y1="385" x2="472" y2="491" stroke="#777" stroke-width="0.9" stroke-linecap="butt"/>
<line x1="472" y1="398" x2="533" y2="398" stroke="#777" stroke-width="0.9" stroke-linecap="butt"/>
<line x1="468.8" y1="401.2" x2="475.2" y2="394.8" stroke="#666" stroke-width="0.8" stroke-linecap="butt"/>
<line x1="529.8" y1="401.2" x2="536.2" y2="394.8" stroke="#666" stroke-width="0.8" stroke-linecap="butt"/>
<text transform="translate(502,392.5) scale(0.730,1)" x="0" y="3.61" font-size="10.5" text-anchor="middle" fill="#3c3c3c">900</text>
<text transform="translate(466,441) rotate(-90) scale(0.730,1)" x="0" y="3.61" font-size="10.5" text-anchor="middle" fill="#3c3c3c">900</text>
<text transform="translate(480,438) rotate(-90) scale(0.730,1)" x="0" y="3.61" font-size="10.5" text-anchor="middle" fill="#3c3c3c">1970</text>
<line x1="226" y1="654" x2="810" y2="654" stroke="#777" stroke-width="0.9" stroke-linecap="butt"/>
<line x1="236.3" y1="657.2" x2="242.7" y2="650.8" stroke="#666" stroke-width="0.8" stroke-linecap="butt"/>
<line x1="242.8" y1="657.2" x2="249.2" y2="650.8" stroke="#666" stroke-width="0.8" stroke-linecap="butt"/>
<line x1="268.8" y1="657.2" x2="275.2" y2="650.8" stroke="#666" stroke-width="0.8" stroke-linecap="butt"/>
<line x1="578.3" y1="657.2" x2="584.7" y2="650.8" stroke="#666" stroke-width="0.8" stroke-linecap="butt"/>
<line x1="604.3" y1="657.2" x2="610.7" y2="650.8" stroke="#666" stroke-width="0.8" stroke-linecap="butt"/>
<line x1="756.2" y1="657.2" x2="762.6" y2="650.8" stroke="#666" stroke-width="0.8" stroke-linecap="butt"/>
<line x1="775.8" y1="657.2" x2="782.2" y2="650.8" stroke="#666" stroke-width="0.8" stroke-linecap="butt"/>
<line x1="782.4" y1="657.2" x2="788.8" y2="650.8" stroke="#666" stroke-width="0.8" stroke-linecap="butt"/>
<text transform="translate(229,649) scale(0.730,1)" x="0" y="3.61" font-size="10.5" text-anchor="middle" fill="#3c3c3c">100</text>
<text transform="translate(258,649) scale(0.730,1)" x="0" y="3.61" font-size="10.5" text-anchor="middle" fill="#3c3c3c">400</text>
<text transform="translate(426,649) scale(0.730,1)" x="0" y="3.61" font-size="10.5" text-anchor="middle" fill="#3c3c3c">4800</text>
<text transform="translate(594,649) scale(0.730,1)" x="0" y="3.61" font-size="10.5" text-anchor="middle" fill="#3c3c3c">400</text>
<text transform="translate(683,649) scale(0.730,1)" x="0" y="3.61" font-size="10.5" text-anchor="middle" fill="#3c3c3c">2340</text>
<text transform="translate(770,649) scale(0.730,1)" x="0" y="3.61" font-size="10.5" text-anchor="middle" fill="#3c3c3c">300</text>
<text transform="translate(797,649) scale(0.730,1)" x="0" y="3.61" font-size="10.5" text-anchor="middle" fill="#3c3c3c">100</text>
<line x1="268" y1="802" x2="585" y2="802" stroke="#777" stroke-width="0.9" stroke-linecap="butt"/>
<line x1="268.8" y1="805.2" x2="275.2" y2="798.8" stroke="#666" stroke-width="0.8" stroke-linecap="butt"/>
<line x1="390.8" y1="805.2" x2="397.2" y2="798.8" stroke="#666" stroke-width="0.8" stroke-linecap="butt"/>
<line x1="469.3" y1="805.2" x2="475.7" y2="798.8" stroke="#666" stroke-width="0.8" stroke-linecap="butt"/>
<line x1="578.3" y1="805.2" x2="584.7" y2="798.8" stroke="#666" stroke-width="0.8" stroke-linecap="butt"/>
<text transform="translate(333,797) scale(0.730,1)" x="0" y="3.61" font-size="10.5" text-anchor="middle" fill="#3c3c3c">1900</text>
<text transform="translate(433,797) scale(0.730,1)" x="0" y="3.61" font-size="10.5" text-anchor="middle" fill="#3c3c3c">1200</text>
<text transform="translate(527,797) scale(0.730,1)" x="0" y="3.61" font-size="10.5" text-anchor="middle" fill="#3c3c3c">1700</text>
<line x1="640.5" y1="626.25" x2="640.5" y2="758.9" stroke="#777" stroke-width="0.9" stroke-linecap="butt"/>
<line x1="637.3" y1="689.8" x2="643.7" y2="696.2" stroke="#666" stroke-width="0.8" stroke-linecap="butt"/>
<line x1="637.3" y1="753.8" x2="643.7" y2="760.2" stroke="#666" stroke-width="0.8" stroke-linecap="butt"/>
<line x1="624" y1="693" x2="645" y2="693" stroke="#777" stroke-width="0.8" stroke-linecap="butt"/>
<text transform="translate(634.5,665) rotate(-90) scale(0.730,1)" x="0" y="3.61" font-size="10.5" text-anchor="middle" fill="#3c3c3c">1050</text>
<text transform="translate(634.5,725) rotate(-90) scale(0.730,1)" x="0" y="3.61" font-size="10.5" text-anchor="middle" fill="#3c3c3c">1000</text>
<text transform="translate(648.5,725) rotate(-90) scale(0.730,1)" x="0" y="3.61" font-size="10.5" text-anchor="middle" fill="#3c3c3c">2020</text>
<line x1="517" y1="726" x2="620" y2="726" stroke="#777" stroke-width="0.9" stroke-linecap="butt"/>
<text transform="translate(570,720) scale(0.730,1)" x="0" y="3.61" font-size="10.5" text-anchor="middle" fill="#3c3c3c">900</text>
<text transform="translate(570,733) scale(0.730,1)" x="0" y="3.61" font-size="10.5" text-anchor="middle" fill="#3c3c3c">1970</text>
<line x1="678" y1="723" x2="803" y2="723" stroke="#777" stroke-width="0.9" stroke-linecap="butt"/>
<text transform="translate(739,717) scale(0.730,1)" x="0" y="3.61" font-size="10.5" text-anchor="middle" fill="#3c3c3c">950</text>
<text transform="translate(739,730.5) scale(0.730,1)" x="0" y="3.61" font-size="10.5" text-anchor="middle" fill="#3c3c3c">1950</text>
<line x1="739" y1="506" x2="846" y2="506" stroke="#777" stroke-width="0.9" stroke-linecap="butt"/>
<text transform="translate(800,500) scale(0.730,1)" x="0" y="3.61" font-size="10.5" text-anchor="middle" fill="#3c3c3c">900</text>
<text transform="translate(800,513) scale(0.730,1)" x="0" y="3.61" font-size="10.5" text-anchor="middle" fill="#3c3c3c">1730</text>
<line x1="692" y1="524" x2="692" y2="640" stroke="#777" stroke-width="0.9" stroke-linecap="butt"/>
<text transform="translate(686,590) rotate(-90) scale(0.730,1)" x="0" y="3.61" font-size="10.5" text-anchor="middle" fill="#3c3c3c">900</text>
<text transform="translate(700,585) rotate(-90) scale(0.730,1)" x="0" y="3.61" font-size="10.5" text-anchor="middle" fill="#3c3c3c">1730</text>
<line x1="604" y1="747" x2="998" y2="747" stroke="#777" stroke-width="0.9" stroke-linecap="butt"/>
<line x1="604.3" y1="750.2" x2="610.7" y2="743.8" stroke="#666" stroke-width="0.8" stroke-linecap="butt"/>
<line x1="762.8" y1="750.2" x2="769.2" y2="743.8" stroke="#666" stroke-width="0.8" stroke-linecap="butt"/>
<line x1="766.8" y1="750.2" x2="773.2" y2="743.8" stroke="#666" stroke-width="0.8" stroke-linecap="butt"/>
<line x1="992.8" y1="750.2" x2="999.2" y2="743.8" stroke="#666" stroke-width="0.8" stroke-linecap="butt"/>
<text transform="translate(687,741.5) scale(0.730,1)" x="0" y="3.61" font-size="10.5" text-anchor="middle" fill="#3c3c3c">2450</text>
<text transform="translate(781,741.5) scale(0.730,1)" x="0" y="3.61" font-size="10.5" text-anchor="middle" fill="#3c3c3c">75</text>
<text transform="translate(882,741.5) scale(0.730,1)" x="0" y="3.61" font-size="10.5" text-anchor="middle" fill="#3c3c3c">3475</text>
<line x1="862" y1="286.9" x2="862" y2="580" stroke="#777" stroke-width="0.9" stroke-linecap="butt"/>
<line x1="858.8" y1="283.7" x2="865.2" y2="290.1" stroke="#666" stroke-width="0.8" stroke-linecap="butt"/>
<line x1="858.8" y1="471.2" x2="865.2" y2="477.6" stroke="#666" stroke-width="0.8" stroke-linecap="butt"/>
<line x1="858.8" y1="535.4" x2="865.2" y2="541.8" stroke="#666" stroke-width="0.8" stroke-linecap="butt"/>
<line x1="858.8" y1="574.8" x2="865.2" y2="581.2" stroke="#666" stroke-width="0.8" stroke-linecap="butt"/>
<line x1="846" y1="474.4" x2="866" y2="474.4" stroke="#777" stroke-width="0.8" stroke-linecap="butt"/>
<line x1="846" y1="538.6" x2="866" y2="538.6" stroke="#777" stroke-width="0.8" stroke-linecap="butt"/>
<text transform="translate(856,380) rotate(-90) scale(0.730,1)" x="0" y="3.61" font-size="10.5" text-anchor="middle" fill="#3c3c3c">2900</text>
<text transform="translate(856,507) rotate(-90) scale(0.730,1)" x="0" y="3.61" font-size="10.5" text-anchor="middle" fill="#3c3c3c">1000</text>
<text transform="translate(870,507) rotate(-90) scale(0.730,1)" x="0" y="3.61" font-size="10.5" text-anchor="middle" fill="#3c3c3c">1780</text>
<text transform="translate(856,558) rotate(-90) scale(0.730,1)" x="0" y="3.61" font-size="10.5" text-anchor="middle" fill="#3c3c3c">600</text>
<line x1="974.5" y1="251" x2="974.5" y2="800" stroke="#777" stroke-width="0.9" stroke-linecap="butt"/>
<line x1="971.3" y1="251.3" x2="977.7" y2="257.7" stroke="#666" stroke-width="0.8" stroke-linecap="butt"/>
<line x1="971.3" y1="257.8" x2="977.7" y2="264.2" stroke="#666" stroke-width="0.8" stroke-linecap="butt"/>
<line x1="971.3" y1="283.7" x2="977.7" y2="290.1" stroke="#666" stroke-width="0.8" stroke-linecap="butt"/>
<line x1="971.3" y1="574.8" x2="977.7" y2="581.2" stroke="#666" stroke-width="0.8" stroke-linecap="butt"/>
<line x1="971.3" y1="600.55" x2="977.7" y2="606.95" stroke="#666" stroke-width="0.8" stroke-linecap="butt"/>
<line x1="971.3" y1="606.8" x2="977.7" y2="613.2" stroke="#666" stroke-width="0.8" stroke-linecap="butt"/>
<line x1="971.3" y1="658.4" x2="977.7" y2="664.8" stroke="#666" stroke-width="0.8" stroke-linecap="butt"/>
<line x1="971.3" y1="664.4" x2="977.7" y2="670.8" stroke="#666" stroke-width="0.8" stroke-linecap="butt"/>
<line x1="971.3" y1="684.3" x2="977.7" y2="690.7" stroke="#666" stroke-width="0.8" stroke-linecap="butt"/>
<line x1="971.3" y1="755.7" x2="977.7" y2="762.1" stroke="#666" stroke-width="0.8" stroke-linecap="butt"/>
<line x1="971.3" y1="774.8" x2="977.7" y2="781.2" stroke="#666" stroke-width="0.8" stroke-linecap="butt"/>
<line x1="971.3" y1="781.5" x2="977.7" y2="787.9" stroke="#666" stroke-width="0.8" stroke-linecap="butt"/>
<text transform="translate(968,242) rotate(-90) scale(0.730,1)" x="0" y="3.61" font-size="10.5" text-anchor="middle" fill="#3c3c3c">100</text>
<text transform="translate(968,272) rotate(-90) scale(0.730,1)" x="0" y="3.61" font-size="10.5" text-anchor="middle" fill="#3c3c3c">400</text>
<text transform="translate(968,432) rotate(-90) scale(0.730,1)" x="0" y="3.61" font-size="10.5" text-anchor="middle" fill="#3c3c3c">4500</text>
<text transform="translate(968,591) rotate(-90) scale(0.730,1)" x="0" y="3.61" font-size="10.5" text-anchor="middle" fill="#3c3c3c">400</text>
<text transform="translate(968,636) rotate(-90) scale(0.730,1)" x="0" y="3.61" font-size="10.5" text-anchor="middle" fill="#3c3c3c">800</text>
<text transform="translate(968,677) rotate(-90) scale(0.730,1)" x="0" y="3.61" font-size="10.5" text-anchor="middle" fill="#3c3c3c">300</text>
<text transform="translate(968,722) rotate(-90) scale(0.730,1)" x="0" y="3.61" font-size="10.5" text-anchor="middle" fill="#3c3c3c">1100</text>
<text transform="translate(968,767) rotate(-90) scale(0.730,1)" x="0" y="3.61" font-size="10.5" text-anchor="middle" fill="#3c3c3c">300</text>
<text transform="translate(968,793) rotate(-90) scale(0.730,1)" x="0" y="3.61" font-size="10.5" text-anchor="middle" fill="#3c3c3c">100</text>
<text transform="translate(981,628) rotate(-90) scale(0.730,1)" x="0" y="3.61" font-size="10.5" text-anchor="middle" fill="#3c3c3c">100</text>
<polyline points="986,617 986,636" fill="none" stroke="#777" stroke-width="0.8" stroke-linejoin="miter"/>
<polyline points="973.75,610 986,617" fill="none" stroke="#777" stroke-width="0.8" stroke-linejoin="miter"/>
<text transform="translate(952,644) rotate(-90) scale(0.730,1)" x="0" y="3.61" font-size="10.5" text-anchor="middle" fill="#3c3c3c">100</text>
<polyline points="957,634 957,655 971,661.6" fill="none" stroke="#777" stroke-width="0.8" stroke-linejoin="miter"/>
<line x1="1166.8" y1="250" x2="1166.8" y2="790" stroke="#777" stroke-width="0.9" stroke-linecap="butt"/>
<line x1="1163.6" y1="251.3" x2="1170" y2="257.7" stroke="#666" stroke-width="0.8" stroke-linecap="butt"/>
<line x1="1150" y1="254.5" x2="1170" y2="254.5" stroke="#777" stroke-width="0.8" stroke-linecap="butt"/>
<line x1="1163.6" y1="283.8" x2="1170" y2="290.2" stroke="#666" stroke-width="0.8" stroke-linecap="butt"/>
<line x1="1150" y1="287" x2="1170" y2="287" stroke="#777" stroke-width="0.8" stroke-linecap="butt"/>
<line x1="1163.6" y1="571.2" x2="1170" y2="577.6" stroke="#666" stroke-width="0.8" stroke-linecap="butt"/>
<line x1="1150" y1="574.4" x2="1170" y2="574.4" stroke="#777" stroke-width="0.8" stroke-linecap="butt"/>
<line x1="1163.6" y1="604.3" x2="1170" y2="610.7" stroke="#666" stroke-width="0.8" stroke-linecap="butt"/>
<line x1="1150" y1="607.5" x2="1170" y2="607.5" stroke="#777" stroke-width="0.8" stroke-linecap="butt"/>
<line x1="1163.6" y1="658.4" x2="1170" y2="664.8" stroke="#666" stroke-width="0.8" stroke-linecap="butt"/>
<line x1="1150" y1="661.6" x2="1170" y2="661.6" stroke="#777" stroke-width="0.8" stroke-linecap="butt"/>
<line x1="1163.6" y1="684.3" x2="1170" y2="690.7" stroke="#666" stroke-width="0.8" stroke-linecap="butt"/>
<line x1="1150" y1="687.5" x2="1170" y2="687.5" stroke="#777" stroke-width="0.8" stroke-linecap="butt"/>
<line x1="1163.6" y1="755.7" x2="1170" y2="762.1" stroke="#666" stroke-width="0.8" stroke-linecap="butt"/>
<line x1="1150" y1="758.9" x2="1170" y2="758.9" stroke="#777" stroke-width="0.8" stroke-linecap="butt"/>
<line x1="1163.6" y1="781.5" x2="1170" y2="787.9" stroke="#666" stroke-width="0.8" stroke-linecap="butt"/>
<line x1="1150" y1="784.7" x2="1170" y2="784.7" stroke="#777" stroke-width="0.8" stroke-linecap="butt"/>
<text transform="translate(1160.5,271) rotate(-90) scale(0.730,1)" x="0" y="3.61" font-size="10.5" text-anchor="middle" fill="#3c3c3c">500</text>
<text transform="translate(1160.5,431) rotate(-90) scale(0.730,1)" x="0" y="3.61" font-size="10.5" text-anchor="middle" fill="#3c3c3c">4500</text>
<text transform="translate(1160.5,594) rotate(-90) scale(0.730,1)" x="0" y="3.61" font-size="10.5" text-anchor="middle" fill="#3c3c3c">500</text>
<text transform="translate(1160.5,636) rotate(-90) scale(0.730,1)" x="0" y="3.61" font-size="10.5" text-anchor="middle" fill="#3c3c3c">800</text>
<text transform="translate(1160.5,675) rotate(-90) scale(0.730,1)" x="0" y="3.61" font-size="10.5" text-anchor="middle" fill="#3c3c3c">400</text>
<text transform="translate(1160.5,721) rotate(-90) scale(0.730,1)" x="0" y="3.61" font-size="10.5" text-anchor="middle" fill="#3c3c3c">1100</text>
<text transform="translate(1160.5,772) rotate(-90) scale(0.730,1)" x="0" y="3.61" font-size="10.5" text-anchor="middle" fill="#3c3c3c">400</text>
<line x1="1192.5" y1="250" x2="1192.5" y2="790" stroke="#777" stroke-width="0.9" stroke-linecap="butt"/>
<line x1="1189.3" y1="251.3" x2="1195.7" y2="257.7" stroke="#666" stroke-width="0.8" stroke-linecap="butt"/>
<line x1="1189.3" y1="782.6" x2="1195.7" y2="789" stroke="#666" stroke-width="0.8" stroke-linecap="butt"/>
<line x1="1175" y1="254.5" x2="1196" y2="254.5" stroke="#777" stroke-width="0.8" stroke-linecap="butt"/>
<line x1="1175" y1="785.8" x2="1196" y2="785.8" stroke="#777" stroke-width="0.8" stroke-linecap="butt"/>
<text transform="translate(1186.5,520) rotate(-90) scale(0.730,1)" x="0" y="3.61" font-size="10.5" text-anchor="middle" fill="#3c3c3c">8200</text>
<line x1="147.5" y1="254" x2="147.5" y2="894" stroke="#777" stroke-width="0.9" stroke-linecap="butt"/>
<line x1="144.3" y1="254.3" x2="150.7" y2="260.7" stroke="#666" stroke-width="0.8" stroke-linecap="butt"/>
<line x1="144.3" y1="887.8" x2="150.7" y2="894.2" stroke="#666" stroke-width="0.8" stroke-linecap="butt"/>
<line x1="144" y1="257.5" x2="164" y2="257.5" stroke="#777" stroke-width="0.8" stroke-linecap="butt"/>
<line x1="144" y1="891" x2="164" y2="891" stroke="#777" stroke-width="0.8" stroke-linecap="butt"/>
<text transform="translate(143,575) rotate(-90) scale(0.730,1)" x="0" y="3.61" font-size="10.5" text-anchor="middle" fill="#3c3c3c">9800</text>
<line x1="173.5" y1="254" x2="173.5" y2="894" stroke="#777" stroke-width="0.9" stroke-linecap="butt"/>
<line x1="170.3" y1="254.3" x2="176.7" y2="260.7" stroke="#666" stroke-width="0.8" stroke-linecap="butt"/>
<line x1="170" y1="257.5" x2="190" y2="257.5" stroke="#777" stroke-width="0.8" stroke-linecap="butt"/>
<line x1="170.3" y1="284.1" x2="176.7" y2="290.5" stroke="#666" stroke-width="0.8" stroke-linecap="butt"/>
<line x1="170" y1="287.3" x2="190" y2="287.3" stroke="#777" stroke-width="0.8" stroke-linecap="butt"/>
<line x1="170.3" y1="587.2" x2="176.7" y2="593.6" stroke="#666" stroke-width="0.8" stroke-linecap="butt"/>
<line x1="170" y1="590.4" x2="190" y2="590.4" stroke="#777" stroke-width="0.8" stroke-linecap="butt"/>
<line x1="170.3" y1="623.05" x2="176.7" y2="629.45" stroke="#666" stroke-width="0.8" stroke-linecap="butt"/>
<line x1="170" y1="626.25" x2="190" y2="626.25" stroke="#777" stroke-width="0.8" stroke-linecap="butt"/>
<line x1="170.3" y1="855.55" x2="176.7" y2="861.95" stroke="#666" stroke-width="0.8" stroke-linecap="butt"/>
<line x1="170" y1="858.75" x2="190" y2="858.75" stroke="#777" stroke-width="0.8" stroke-linecap="butt"/>
<line x1="170.3" y1="887.8" x2="176.7" y2="894.2" stroke="#666" stroke-width="0.8" stroke-linecap="butt"/>
<line x1="170" y1="891" x2="190" y2="891" stroke="#777" stroke-width="0.8" stroke-linecap="butt"/>
<text transform="translate(167.5,272) rotate(-90) scale(0.730,1)" x="0" y="3.61" font-size="10.5" text-anchor="middle" fill="#3c3c3c">450</text>
<text transform="translate(167.5,438) rotate(-90) scale(0.730,1)" x="0" y="3.61" font-size="10.5" text-anchor="middle" fill="#3c3c3c">4700</text>
<text transform="translate(167.5,608) rotate(-90) scale(0.730,1)" x="0" y="3.61" font-size="10.5" text-anchor="middle" fill="#3c3c3c">550</text>
<text transform="translate(167.5,742) rotate(-90) scale(0.730,1)" x="0" y="3.61" font-size="10.5" text-anchor="middle" fill="#3c3c3c">3600</text>
<text transform="translate(167.5,875) rotate(-90) scale(0.730,1)" x="0" y="3.61" font-size="10.5" text-anchor="middle" fill="#3c3c3c">500</text>
<line x1="572" y1="219" x2="572" y2="258" stroke="#777" stroke-width="0.9" stroke-linecap="butt"/>
<line x1="568.8" y1="219.1" x2="575.2" y2="225.5" stroke="#666" stroke-width="0.8" stroke-linecap="butt"/>
<line x1="556" y1="222.3" x2="575" y2="222.3" stroke="#777" stroke-width="0.8" stroke-linecap="butt"/>
<line x1="568.8" y1="225.55" x2="575.2" y2="231.95" stroke="#666" stroke-width="0.8" stroke-linecap="butt"/>
<line x1="556" y1="228.75" x2="575" y2="228.75" stroke="#777" stroke-width="0.8" stroke-linecap="butt"/>
<line x1="568.8" y1="235.55" x2="575.2" y2="241.95" stroke="#666" stroke-width="0.8" stroke-linecap="butt"/>
<line x1="556" y1="238.75" x2="575" y2="238.75" stroke="#777" stroke-width="0.8" stroke-linecap="butt"/>
<text transform="translate(566,211) rotate(-90) scale(0.730,1)" x="0" y="3.61" font-size="10.5" text-anchor="middle" fill="#3c3c3c">100</text>
<text transform="translate(566,247) rotate(-90) scale(0.730,1)" x="0" y="3.61" font-size="10.5" text-anchor="middle" fill="#3c3c3c">300</text>
<text transform="translate(583.5,214) rotate(-90) scale(0.730,1)" x="0" y="3.61" font-size="10.5" text-anchor="middle" fill="#3c3c3c">150</text>
<polyline points="588.8,204 588.8,222 572,234" fill="none" stroke="#777" stroke-width="0.8" stroke-linejoin="miter"/>
<line x1="236" y1="950" x2="617" y2="950" stroke="#777" stroke-width="0.9" stroke-linecap="butt"/>
<line x1="236.3" y1="953.2" x2="242.7" y2="946.8" stroke="#666" stroke-width="0.8" stroke-linecap="butt"/>
<line x1="239.5" y1="934" x2="239.5" y2="955" stroke="#777" stroke-width="0.8" stroke-linecap="butt"/>
<line x1="268.8" y1="953.2" x2="275.2" y2="946.8" stroke="#666" stroke-width="0.8" stroke-linecap="butt"/>
<line x1="272" y1="934" x2="272" y2="955" stroke="#777" stroke-width="0.8" stroke-linecap="butt"/>
<line x1="578.3" y1="953.2" x2="584.7" y2="946.8" stroke="#666" stroke-width="0.8" stroke-linecap="butt"/>
<line x1="581.5" y1="934" x2="581.5" y2="955" stroke="#777" stroke-width="0.8" stroke-linecap="butt"/>
<line x1="609.8" y1="953.2" x2="616.2" y2="946.8" stroke="#666" stroke-width="0.8" stroke-linecap="butt"/>
<line x1="613" y1="934" x2="613" y2="955" stroke="#777" stroke-width="0.8" stroke-linecap="butt"/>
<text transform="translate(256,944) scale(0.730,1)" x="0" y="3.61" font-size="10.5" text-anchor="middle" fill="#3c3c3c">500</text>
<text transform="translate(426,944) scale(0.730,1)" x="0" y="3.61" font-size="10.5" text-anchor="middle" fill="#3c3c3c">4800</text>
<text transform="translate(597,944) scale(0.730,1)" x="0" y="3.61" font-size="10.5" text-anchor="middle" fill="#3c3c3c">500</text>
<line x1="236" y1="976.75" x2="617" y2="976.75" stroke="#777" stroke-width="0.9" stroke-linecap="butt"/>
<line x1="236.3" y1="979.95" x2="242.7" y2="973.55" stroke="#666" stroke-width="0.8" stroke-linecap="butt"/>
<line x1="239.5" y1="961" x2="239.5" y2="981" stroke="#777" stroke-width="0.8" stroke-linecap="butt"/>
<line x1="609.8" y1="979.95" x2="616.2" y2="973.55" stroke="#666" stroke-width="0.8" stroke-linecap="butt"/>
<line x1="613" y1="961" x2="613" y2="981" stroke="#777" stroke-width="0.8" stroke-linecap="butt"/>
<text transform="translate(426,970.5) scale(0.730,1)" x="0" y="3.61" font-size="10.5" text-anchor="middle" fill="#3c3c3c">5800</text>
<line x1="660.75" y1="784.7" x2="660.75" y2="893" stroke="#777" stroke-width="0.9" stroke-linecap="butt"/>
<line x1="657.55" y1="781.5" x2="663.95" y2="787.9" stroke="#666" stroke-width="0.8" stroke-linecap="butt"/>
<line x1="657.55" y1="887.8" x2="663.95" y2="894.2" stroke="#666" stroke-width="0.8" stroke-linecap="butt"/>
<line x1="645" y1="891" x2="665" y2="891" stroke="#777" stroke-width="0.8" stroke-linecap="butt"/>
<text transform="translate(654.5,838) rotate(-90) scale(0.730,1)" x="0" y="3.61" font-size="10.5" text-anchor="middle" fill="#3c3c3c">1650</text>
<text transform="translate(1046.5,715) scale(0.856,1)" x="0" y="3.61" font-size="10.5" text-anchor="middle" fill="#3c3c3c">14x168/300</text>
<text transform="translate(393,353) scale(0.871,1)" x="0" y="7" font-size="20.35" text-anchor="start" fill="#000" font-weight="bold">0.04</text>
<text transform="translate(543,463) scale(0.859,1)" x="0" y="7" font-size="20.35" text-anchor="start" fill="#000" font-weight="bold">0.03</text>
<text transform="translate(888,405.75) scale(0.833,1)" x="0" y="7" font-size="20.35" text-anchor="start" fill="#000" font-weight="bold">0.06</text>
<text transform="translate(409,679.5) scale(0.846,1)" x="0" y="7" font-size="20.35" text-anchor="start" fill="#000" font-weight="bold">0.05</text>
<text transform="translate(665,691) scale(0.833,1)" x="0" y="7" font-size="20.35" text-anchor="start" fill="#000" font-weight="bold">0.02</text>
<text transform="translate(837.5,706.5) scale(0.770,1)" x="0" y="7" font-size="20.35" text-anchor="start" fill="#000" font-weight="bold">0.01</text>
<rect x="544.5" y="479.5" width="33.5" height="11.5" fill="none" stroke="#555" stroke-width="0.9"/>
<text transform="translate(561.25,485.25) scale(0.939,1)" x="0" y="3.5" font-size="10.17" text-anchor="middle" fill="#3c3c3c">−2,350</text>
<rect x="889" y="420" width="34" height="13" fill="none" stroke="#555" stroke-width="0.9"/>
<text transform="translate(906,426.5) scale(0.955,1)" x="0" y="3.5" font-size="10.17" text-anchor="middle" fill="#3c3c3c">−2,350</text>
<rect x="409" y="694" width="34" height="13" fill="none" stroke="#555" stroke-width="0.9"/>
<text transform="translate(426,700.5) scale(0.955,1)" x="0" y="3.5" font-size="10.17" text-anchor="middle" fill="#3c3c3c">−2,350</text>
<rect x="836" y="721" width="33" height="14" fill="none" stroke="#555" stroke-width="0.9"/>
<text transform="translate(852.5,728) scale(0.924,1)" x="0" y="3.5" font-size="10.17" text-anchor="middle" fill="#3c3c3c">−2,350</text>
<text transform="translate(1478.3,509.2) scale(0.794,1)" x="0" y="6.25" font-size="18.17" text-anchor="start" fill="#000" font-weight="bold">TABULKA  MÍSTNOSTÍ</text>
<rect x="1473.5" y="524.4" width="362.1" height="127.1" fill="none" stroke="#000" stroke-width="2"/>
<line x1="1473.5" y1="542.5" x2="1835.6" y2="542.5" stroke="#000" stroke-width="2" stroke-linecap="butt"/>
<line x1="1473.5" y1="561.5" x2="1835.6" y2="561.5" stroke="#666" stroke-width="0.8" stroke-linecap="butt"/>
<line x1="1473.5" y1="579.6" x2="1835.6" y2="579.6" stroke="#666" stroke-width="0.8" stroke-linecap="butt"/>
<line x1="1473.5" y1="597.5" x2="1835.6" y2="597.5" stroke="#666" stroke-width="0.8" stroke-linecap="butt"/>
<line x1="1473.5" y1="615.4" x2="1835.6" y2="615.4" stroke="#666" stroke-width="0.8" stroke-linecap="butt"/>
<line x1="1473.5" y1="633.3" x2="1835.6" y2="633.3" stroke="#666" stroke-width="0.8" stroke-linecap="butt"/>
<line x1="1517.3" y1="524.4" x2="1517.3" y2="651.5" stroke="#666" stroke-width="0.8" stroke-linecap="butt"/>
<line x1="1663.5" y1="524.4" x2="1663.5" y2="651.5" stroke="#666" stroke-width="0.8" stroke-linecap="butt"/>
<line x1="1703.3" y1="524.4" x2="1703.3" y2="651.5" stroke="#666" stroke-width="0.8" stroke-linecap="butt"/>
<text transform="translate(1480,534) scale(0.800,1)" x="0" y="3.25" font-size="9.45" text-anchor="start" fill="#777">Číslo</text>
<text transform="translate(1524,534) scale(0.800,1)" x="0" y="3.25" font-size="9.45" text-anchor="start" fill="#777">Účel</text>
<text transform="translate(1669,534) scale(0.800,1)" x="0" y="3.25" font-size="9.45" text-anchor="start" fill="#777">[m2]</text>
<text transform="translate(1709,534) scale(0.800,1)" x="0" y="3.25" font-size="9.45" text-anchor="start" fill="#777">podlaha</text>
<text transform="translate(1479.5,552) scale(0.881,1)" x="0" y="3.55" font-size="10.32" text-anchor="start" fill="#000" font-weight="bold">0.01</text>
<text transform="translate(1523.5,552) scale(0.755,1)" x="0" y="3.55" font-size="10.32" text-anchor="start" fill="#000" font-weight="bold">CHODBA</text>
<text transform="translate(1694,552) scale(0.970,1)" x="0" y="3.5" font-size="10.17" text-anchor="end" fill="#666">7,78</text>
<text transform="translate(1709,552) scale(0.844,1)" x="0" y="3.35" font-size="9.74" text-anchor="start" fill="#777">KERAMICKÁ  DLAŽBA</text>
<text transform="translate(1479.5,570) scale(0.881,1)" x="0" y="3.55" font-size="10.32" text-anchor="start" fill="#000" font-weight="bold">0.02</text>
<text transform="translate(1523.5,570) scale(0.755,1)" x="0" y="3.55" font-size="10.32" text-anchor="start" fill="#000" font-weight="bold">PŘEDSÍŇ</text>
<text transform="translate(1694,570) scale(0.970,1)" x="0" y="3.5" font-size="10.17" text-anchor="end" fill="#666">4,87</text>
<text transform="translate(1709,570) scale(0.844,1)" x="0" y="3.35" font-size="9.74" text-anchor="start" fill="#777">KERAMICKÁ  DLAŽBA</text>
<text transform="translate(1479.5,588) scale(0.881,1)" x="0" y="3.55" font-size="10.32" text-anchor="start" fill="#000" font-weight="bold">0.03</text>
<text transform="translate(1523.5,588) scale(0.755,1)" x="0" y="3.55" font-size="10.32" text-anchor="start" fill="#000" font-weight="bold">KOTELNA</text>
<text transform="translate(1694,588) scale(0.970,1)" x="0" y="3.5" font-size="10.17" text-anchor="end" fill="#666">26,04</text>
<text transform="translate(1709,588) scale(0.844,1)" x="0" y="3.35" font-size="9.74" text-anchor="start" fill="#777">KERAMICKÁ  DLAŽBA</text>
<text transform="translate(1479.5,606) scale(0.881,1)" x="0" y="3.55" font-size="10.32" text-anchor="start" fill="#000" font-weight="bold">0.04</text>
<text transform="translate(1523.5,606) scale(0.755,1)" x="0" y="3.55" font-size="10.32" text-anchor="start" fill="#000" font-weight="bold">SKLAD  PELETEK</text>
<text transform="translate(1694,606) scale(0.970,1)" x="0" y="3.5" font-size="10.17" text-anchor="end" fill="#666">8,00</text>
<text transform="translate(1709,606) scale(0.844,1)" x="0" y="3.35" font-size="9.74" text-anchor="start" fill="#777">KERAMICKÁ  DLAŽBA</text>
<text transform="translate(1479.5,624) scale(0.881,1)" x="0" y="3.55" font-size="10.32" text-anchor="start" fill="#000" font-weight="bold">0.05</text>
<text transform="translate(1523.5,624) scale(0.755,1)" x="0" y="3.55" font-size="10.32" text-anchor="start" fill="#000" font-weight="bold">SKLAD</text>
<text transform="translate(1694,624) scale(0.970,1)" x="0" y="3.5" font-size="10.17" text-anchor="end" fill="#666">17,28</text>
<text transform="translate(1709,624) scale(0.844,1)" x="0" y="3.35" font-size="9.74" text-anchor="start" fill="#777">KERAMICKÁ  DLAŽBA</text>
<text transform="translate(1479.5,642) scale(0.881,1)" x="0" y="3.55" font-size="10.32" text-anchor="start" fill="#000" font-weight="bold">0.06</text>
<text transform="translate(1523.5,642) scale(0.755,1)" x="0" y="3.55" font-size="10.32" text-anchor="start" fill="#000" font-weight="bold">SKLEP</text>
<text transform="translate(1694,642) scale(0.970,1)" x="0" y="3.5" font-size="10.17" text-anchor="end" fill="#666">18,00</text>
<text transform="translate(1709,642) scale(0.844,1)" x="0" y="3.35" font-size="9.74" text-anchor="start" fill="#777">KERAMICKÁ  DLAŽBA</text>
<text transform="translate(1476.7,728) scale(0.873,1)" x="0" y="6.25" font-size="18.17" text-anchor="start" fill="#000" font-weight="bold">LEGENDA  MATERIÁLŮ</text>
<rect x="1473" y="750.4" width="57.8" height="29.6" fill="none" stroke="#555" stroke-width="0.8"/>
<line x1="1473" y1="750.4" x2="1530.8" y2="750.4" stroke="#000" stroke-width="1.8" stroke-linecap="butt"/>
<line x1="1473" y1="780" x2="1530.8" y2="780" stroke="#000" stroke-width="1.8" stroke-linecap="butt"/>
<rect x="1473" y="797.7" width="57.8" height="10.8" fill="url(#pX)" stroke="#555" stroke-width="0.8"/>
<line x1="1473" y1="797.7" x2="1530.8" y2="797.7" stroke="#000" stroke-width="1.8" stroke-linecap="butt"/>
<line x1="1473" y1="808.5" x2="1530.8" y2="808.5" stroke="#000" stroke-width="1.8" stroke-linecap="butt"/>
<rect x="1473" y="826.9" width="57.8" height="20.4" fill="url(#pLg3)" stroke="#555" stroke-width="0.8"/>
<rect x="1473" y="826.9" width="57.8" height="20.4" fill="url(#pLg3d)" stroke="none" stroke-width="1"/>
<line x1="1473" y1="826.9" x2="1530.8" y2="826.9" stroke="#000" stroke-width="1.8" stroke-linecap="butt"/>
<line x1="1473" y1="847.3" x2="1530.8" y2="847.3" stroke="#000" stroke-width="1.8" stroke-linecap="butt"/>
<rect x="1473" y="860.6" width="57.8" height="20.4" fill="url(#pB)" stroke="#555" stroke-width="0.8"/>
<line x1="1473" y1="860.6" x2="1530.8" y2="860.6" stroke="#000" stroke-width="1.8" stroke-linecap="butt"/>
<line x1="1473" y1="881" x2="1530.8" y2="881" stroke="#000" stroke-width="1.8" stroke-linecap="butt"/>
<rect x="1473" y="894.6" width="57.8" height="19.8" fill="url(#pD)" stroke="none" stroke-width="1"/>
<line x1="1473" y1="894.6" x2="1473" y2="914.4" stroke="#aaa" stroke-width="0.6" stroke-linecap="butt"/>
<line x1="1530.8" y1="894.6" x2="1530.8" y2="914.4" stroke="#aaa" stroke-width="0.6" stroke-linecap="butt"/>
<rect x="1473" y="928.3" width="57.8" height="19.4" fill="url(#pA)" stroke="#666" stroke-width="0.9"/>
<text transform="translate(1573.5,766.5) scale(0.845,1)" x="0" y="3.65" font-size="10.61" text-anchor="start" fill="#666">ZDIVO  POROTHERM  40  P+D,  44  P+D</text>
<text transform="translate(1573.5,803.3) scale(0.829,1)" x="0" y="3.65" font-size="10.61" text-anchor="start" fill="#666">ZDIVO  POROTHERM  11,5  P+D</text>
<text transform="translate(1573.5,836.9) scale(0.801,1)" x="0" y="3.65" font-size="10.61" text-anchor="start" fill="#666">ZDIVO  Z  CIHEL  PLNÝCH  PÁLENÝCH</text>
<text transform="translate(1573.5,870.6) scale(0.845,1)" x="0" y="3.65" font-size="10.61" text-anchor="start" fill="#666">ZDIVO  POROTHERM  24  P+D,  30  P+D</text>
<text transform="translate(1573.5,904.4) scale(0.776,1)" x="0" y="3.65" font-size="10.61" text-anchor="start" fill="#666">BOURANÉ  KONSTRUKCE</text>
<text transform="translate(1573.5,938.3) scale(0.772,1)" x="0" y="3.65" font-size="10.61" text-anchor="start" fill="#666">STÁVAJÍCÍ  ŽELEZOBETONOVÁ  STĚNA</text>
<circle cx="1793.3" cy="1089.4" r="45.2" fill="none" stroke="#666" stroke-width="0.9"/>
<line x1="1802.5" y1="1038.4" x2="1783.9" y2="1140" stroke="#666" stroke-width="0.9" stroke-linecap="butt"/>
<line x1="1793.3" y1="1089.8" x2="1844.7" y2="1098.5" stroke="#666" stroke-width="0.9" stroke-linecap="butt"/>
<line x1="1748" y1="1080.5" x2="1794" y2="1083.5" stroke="#666" stroke-width="0.9" stroke-linecap="butt"/>
<polygon points="1742.6,1080 1793.5,1089.2 1792.6,1095.8" fill="#000"/>
<text transform="translate(1426.8,1177) scale(0.797,1)" x="0" y="4.75" font-size="13.81" text-anchor="start" fill="#000" font-weight="bold">±0,000  =  000,00  Bpv</text>
<rect x="1402.4" y="1195" width="472.1" height="136" fill="none" stroke="#000" stroke-width="1.8"/>
<line x1="1545.4" y1="1195" x2="1545.4" y2="1331" stroke="#888" stroke-width="0.9" stroke-linecap="butt"/>
<line x1="1545.4" y1="1216.2" x2="1874.5" y2="1216.2" stroke="#888" stroke-width="0.8" stroke-linecap="butt"/>
<line x1="1545.4" y1="1217.8" x2="1874.5" y2="1217.8" stroke="#888" stroke-width="0.8" stroke-linecap="butt"/>
<line x1="1545.4" y1="1229.5" x2="1874.5" y2="1229.5" stroke="#888" stroke-width="0.9" stroke-linecap="butt"/>
<line x1="1545.4" y1="1241.5" x2="1874.5" y2="1241.5" stroke="#888" stroke-width="0.9" stroke-linecap="butt"/>
<line x1="1545.4" y1="1279.4" x2="1874.5" y2="1279.4" stroke="#888" stroke-width="0.9" stroke-linecap="butt"/>
<line x1="1545.4" y1="1305.3" x2="1874.5" y2="1305.3" stroke="#888" stroke-width="0.9" stroke-linecap="butt"/>
<line x1="1658.1" y1="1229.5" x2="1658.1" y2="1279.4" stroke="#888" stroke-width="0.9" stroke-linecap="butt"/>
<line x1="1806.1" y1="1279.4" x2="1806.1" y2="1331" stroke="#888" stroke-width="0.9" stroke-linecap="butt"/>
<text transform="translate(1407,1201.5) scale(0.912,1)" x="0" y="3" font-size="8.72" text-anchor="start" fill="#6a6a6a">Projektant:</text>
<ellipse cx="1474.9" cy="1224.3" rx="34.9" ry="14.9" fill="none" stroke="#555" stroke-width="0.8"/>
<text x="1474.9" y="1236.5" font-size="42" text-anchor="middle" fill="#fff" stroke="#333" stroke-width="0.85" transform="translate(1474.9,0) scale(0.74,1) translate(-1474.9,0)" font-weight="bold">arc</text>
<line x1="1452" y1="1249" x2="1498" y2="1249" stroke="#666" stroke-width="1.3" stroke-linecap="butt"/>
<text transform="translate(1475,1259.5) scale(0.651,1)" x="0" y="4.5" font-size="13.08" text-anchor="middle" fill="#555" font-weight="bold">S T U D I O</text>
<text transform="translate(1475,1283) scale(0.866,1)" x="0" y="2.7" font-size="7.85" text-anchor="middle" fill="#6a6a6a">ak. arch. oldřich hozman</text>
<text transform="translate(1475,1291) scale(0.915,1)" x="0" y="2.7" font-size="7.85" text-anchor="middle" fill="#6a6a6a">na zájezdu 16, 101 00 praha 10</text>
<text transform="translate(1475,1298) scale(0.878,1)" x="0" y="2.7" font-size="7.85" text-anchor="middle" fill="#6a6a6a">dič: 006-6409071086 ičo 40666093</text>
<text transform="translate(1475,1305.5) scale(1.187,1)" x="0" y="2.7" font-size="7.85" text-anchor="middle" fill="#6a6a6a">tel  + 4 2 0  2 3 5  3 1  1 6  2 2</text>
<text transform="translate(1475,1313) scale(1.162,1)" x="0" y="2.7" font-size="7.85" text-anchor="middle" fill="#6a6a6a">fax  + 4 2 0  2 3 5  3 1  1 6  2 2</text>
<text transform="translate(1551,1201) scale(0.897,1)" x="0" y="3" font-size="8.72" text-anchor="start" fill="#6a6a6a">Investor:</text>
<text transform="translate(1585.6,1208) scale(0.996,1)" x="0" y="3.65" font-size="10.61" text-anchor="start" fill="#000" font-weight="bold">Josef a Milada Frořkovi, Ke Kašně 48, 252 62 Statenice</text>
<text transform="translate(1551,1223.5) scale(0.924,1)" x="0" y="3.15" font-size="9.16" text-anchor="start" fill="#6a6a6a">č. parcely:   st.parc.č. 621, parc.č. 154/2, k.ú. Statenice</text>
<text transform="translate(1551,1235.5) scale(0.895,1)" x="0" y="3.15" font-size="9.16" text-anchor="start" fill="#6a6a6a">datum:      Leden 2013</text>
<text transform="translate(1665,1235.5) scale(0.907,1)" x="0" y="3.15" font-size="9.16" text-anchor="start" fill="#6a6a6a">kreslil :      Jan Kůla</text>
<text transform="translate(1551,1248) scale(0.879,1)" x="0" y="3.15" font-size="9.16" text-anchor="start" fill="#6a6a6a">stavební úřad:</text>
<text transform="translate(1551,1263) scale(0.861,1)" x="0" y="3.15" font-size="9.16" text-anchor="start" fill="#6a6a6a">Velké Přílepy</text>
<text transform="translate(1663,1248) scale(0.869,1)" x="0" y="3.15" font-size="9.16" text-anchor="start" fill="#6a6a6a">stupeň projektové dokumentace:</text>
<text transform="translate(1663,1266) scale(0.751,1)" x="0" y="4.5" font-size="13.08" text-anchor="start" fill="#111">PROJEKT PRO STAVEBNÍ POVOLENÍ</text>
<text transform="translate(1551,1286) scale(0.786,1)" x="0" y="3.15" font-size="9.16" text-anchor="start" fill="#6a6a6a">Akce:</text>
<text transform="translate(1576,1287) scale(0.733,1)" x="0" y="3.65" font-size="10.61" text-anchor="start" fill="#000" font-weight="bold">NOVOSTAVBA RODINNÉHO STATKU, STATENICE</text>
<text transform="translate(1576,1298.5) scale(0.757,1)" x="0" y="3.65" font-size="10.61" text-anchor="start" fill="#000" font-weight="bold">– ZMĚNA STAVBY PŘED DOKONČENÍM</text>
<text transform="translate(1810,1286) scale(0.847,1)" x="0" y="3.15" font-size="9.16" text-anchor="start" fill="#6a6a6a">Měřítko:</text>
<text transform="translate(1828,1298) scale(0.898,1)" x="0" y="3.15" font-size="9.16" text-anchor="start" fill="#6a6a6a">1:50</text>
<text transform="translate(1551,1312) scale(0.831,1)" x="0" y="3.15" font-size="9.16" text-anchor="start" fill="#6a6a6a">Název výkresu:</text>
<text transform="translate(1616,1318) scale(0.791,1)" x="0" y="4.75" font-size="13.81" text-anchor="start" fill="#777">PŮDORYS SUTERÉNU</text>
<text transform="translate(1810,1312) scale(0.870,1)" x="0" y="3.15" font-size="9.16" text-anchor="start" fill="#6a6a6a">Číslo výkresu:</text>
<line x1="1839" y1="1324.5" x2="1846" y2="1324.5" stroke="#6a6a6a" stroke-width="0.8" stroke-linecap="butt"/>
</svg></body></html>
